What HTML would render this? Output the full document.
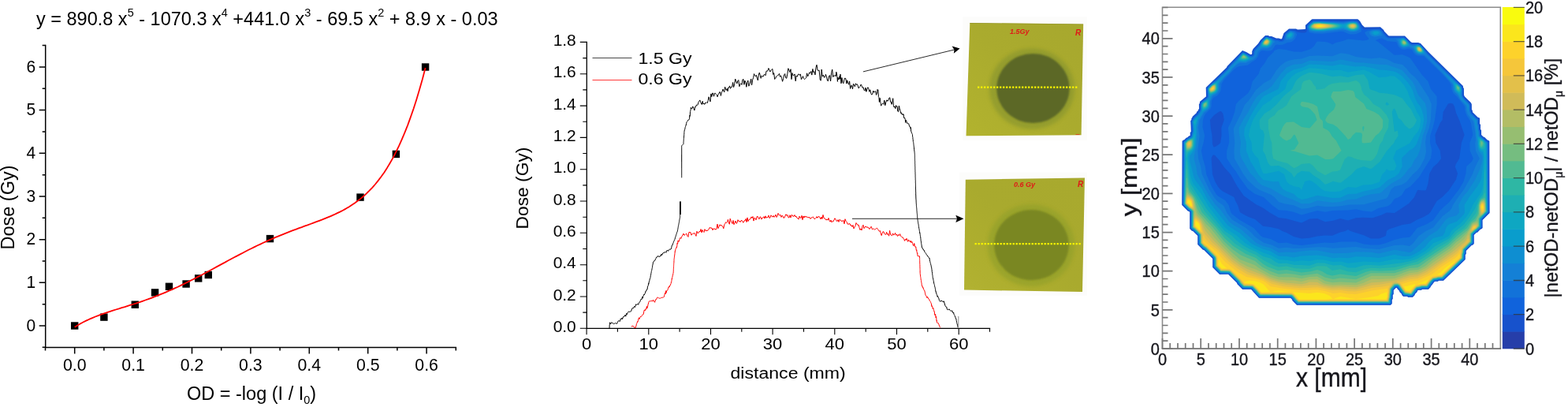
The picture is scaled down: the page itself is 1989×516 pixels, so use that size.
<!DOCTYPE html>
<html lang="en"><head><meta charset="utf-8"><title>Film dosimetry figure</title>
<style>
html,body{margin:0;padding:0;background:#fff;}
body{width:1989px;height:516px;overflow:hidden;}
svg{display:block;}
text{white-space:pre;}
</style></head>
<body>
<svg width="1989" height="516" viewBox="0 0 1989 516">
<rect width="1989" height="516" fill="#fff"/>
<g stroke="#000" stroke-width="1.5" fill="none" stroke-linecap="square">
<path d="M57.7 57.6V440.5H578.3"/>
<path d="M57.7 440.3h-4M57.7 413.0h-8M57.7 385.7h-4M57.7 358.3h-8M57.7 331.0h-4M57.7 303.7h-8M57.7 276.3h-4M57.7 249.0h-8M57.7 221.7h-4M57.7 194.3h-8M57.7 167.0h-4M57.7 139.6h-8M57.7 112.3h-4M57.7 85.0h-8M57.7 57.6h-4M57.5 440.5v4M94.7 440.5v8M131.9 440.5v4M169.1 440.5v8M206.3 440.5v4M243.5 440.5v8M280.7 440.5v4M317.9 440.5v8M355.1 440.5v4M392.3 440.5v8M429.5 440.5v4M466.7 440.5v8M503.9 440.5v4M541.1 440.5v8M578.3 440.5v4" stroke-linecap="butt"/>
</g>
<g font-family='"Liberation Sans", Arial, Helvetica, sans-serif' font-size="23.5" fill="#000">
<text transform="translate(45.1,419.7) scale(0.93,1)" text-anchor="end" font-size="22.6">0</text>
<text transform="translate(45.1,365.0) scale(0.93,1)" text-anchor="end" font-size="22.6">1</text>
<text transform="translate(45.1,310.4) scale(0.93,1)" text-anchor="end" font-size="22.6">2</text>
<text transform="translate(45.1,255.7) scale(0.93,1)" text-anchor="end" font-size="22.6">3</text>
<text transform="translate(45.1,201.0) scale(0.93,1)" text-anchor="end" font-size="22.6">4</text>
<text transform="translate(45.1,146.3) scale(0.93,1)" text-anchor="end" font-size="22.6">5</text>
<text transform="translate(45.1,91.7) scale(0.93,1)" text-anchor="end" font-size="22.6">6</text>
<text x="94.7" y="470" text-anchor="middle" font-size="21.3">0.0</text>
<text x="169.1" y="470" text-anchor="middle" font-size="21.3">0.1</text>
<text x="243.5" y="470" text-anchor="middle" font-size="21.3">0.2</text>
<text x="317.9" y="470" text-anchor="middle" font-size="21.3">0.3</text>
<text x="392.3" y="470" text-anchor="middle" font-size="21.3">0.4</text>
<text x="466.7" y="470" text-anchor="middle" font-size="21.3">0.5</text>
<text x="541.1" y="470" text-anchor="middle" font-size="21.3">0.6</text>
<text x="46" y="31.5">y = 890.8 x<tspan dy="-10.5" font-size="14.5">5</tspan><tspan dy="10.5"> - 1070.3 x</tspan><tspan dy="-10.5" font-size="14.5">4</tspan><tspan dy="10.5"> +441.0 x</tspan><tspan dy="-10.5" font-size="14.5">3</tspan><tspan dy="10.5"> - 69.5 x</tspan><tspan dy="-10.5" font-size="14.5">2</tspan><tspan dy="10.5"> + 8.9 x - 0.03</tspan></text>
<text x="237" y="506.5">OD = -log (I / I<tspan dy="5" font-size="14.5">0</tspan><tspan dy="-5">)</tspan></text>
<text transform="translate(17.5,263) rotate(-90)" text-anchor="middle">Dose (Gy)</text>
</g>
<rect x="90.0" y="408.3" width="9.4" height="9.4" fill="#000"/>
<rect x="127.2" y="397.4" width="9.4" height="9.4" fill="#000"/>
<rect x="166.6" y="381.5" width="9.4" height="9.4" fill="#000"/>
<rect x="191.9" y="366.2" width="9.4" height="9.4" fill="#000"/>
<rect x="209.8" y="358.6" width="9.4" height="9.4" fill="#000"/>
<rect x="231.4" y="355.3" width="9.4" height="9.4" fill="#000"/>
<rect x="247.0" y="348.2" width="9.4" height="9.4" fill="#000"/>
<rect x="259.6" y="343.8" width="9.4" height="9.4" fill="#000"/>
<rect x="337.8" y="297.9" width="9.4" height="9.4" fill="#000"/>
<rect x="452.3" y="245.4" width="9.4" height="9.4" fill="#000"/>
<rect x="497.7" y="190.7" width="9.4" height="9.4" fill="#000"/>
<rect x="534.9" y="80.3" width="9.4" height="9.4" fill="#000"/>
<path d="M94.7 414.8 L98.4 412.5 L102.2 410.3 L105.9 408.3 L109.7 406.4 L113.4 404.7 L117.1 403.1 L120.9 401.5 L124.6 400.1 L128.3 398.7 L132.1 397.4 L135.8 396.1 L139.6 394.9 L143.3 393.7 L147.0 392.5 L150.8 391.4 L154.5 390.2 L158.3 389.1 L162.0 387.9 L165.7 386.7 L169.5 385.5 L173.2 384.3 L177.0 383.1 L180.7 381.8 L184.4 380.5 L188.2 379.2 L191.9 377.8 L195.6 376.4 L199.4 374.9 L203.1 373.4 L206.9 371.9 L210.6 370.3 L214.3 368.7 L218.1 367.1 L221.8 365.4 L225.6 363.7 L229.3 361.9 L233.0 360.1 L236.8 358.2 L240.5 356.4 L244.3 354.5 L248.0 352.6 L251.7 350.6 L255.5 348.7 L259.2 346.7 L262.9 344.7 L266.7 342.7 L270.4 340.7 L274.2 338.6 L277.9 336.6 L281.6 334.6 L285.4 332.6 L289.1 330.5 L292.9 328.5 L296.6 326.5 L300.3 324.6 L304.1 322.6 L307.8 320.7 L311.5 318.7 L315.3 316.8 L319.0 315.0 L322.8 313.1 L326.5 311.3 L330.2 309.6 L334.0 307.8 L337.7 306.1 L341.5 304.4 L345.2 302.8 L348.9 301.2 L352.7 299.6 L356.4 298.1 L360.2 296.6 L363.9 295.1 L367.6 293.7 L371.4 292.2 L375.1 290.8 L378.8 289.4 L382.6 288.1 L386.3 286.7 L390.1 285.4 L393.8 284.0 L397.5 282.6 L401.3 281.2 L405.0 279.8 L408.8 278.4 L412.5 276.9 L416.2 275.4 L420.0 273.8 L423.7 272.2 L427.4 270.4 L431.2 268.6 L434.9 266.7 L438.7 264.6 L442.4 262.4 L446.1 260.0 L449.9 257.5 L453.6 254.8 L457.4 251.9 L461.1 248.8 L464.8 245.4 L468.6 241.7 L472.3 237.8 L476.1 233.5 L479.8 228.9 L483.5 224.0 L487.3 218.7 L491.0 212.9 L494.7 206.7 L498.5 200.1 L502.2 192.9 L506.0 185.2 L509.7 176.9 L513.4 168.1 L517.2 158.6 L520.9 148.4 L524.7 137.5 L528.4 125.9 L532.1 113.4 L535.9 100.2 L539.6 86.1" stroke="#f00" stroke-width="1.8" fill="none" stroke-linejoin="round"/>
<g stroke="#000" stroke-width="1.3" fill="none" stroke-linecap="square">
<path d="M744.3 53.4V416.3H1255.5"/>
<path d="M744.3 416.3h-8.5M744.3 396.1h-5M744.3 376.0h-8.5M744.3 355.8h-5M744.3 335.7h-8.5M744.3 315.5h-5M744.3 295.3h-8.5M744.3 275.2h-5M744.3 255.0h-8.5M744.3 234.9h-5M744.3 214.7h-8.5M744.3 194.5h-5M744.3 174.4h-8.5M744.3 154.2h-5M744.3 134.1h-8.5M744.3 113.9h-5M744.3 93.7h-8.5M744.3 73.6h-5M744.3 53.4h-8.5M744.1 416.3v8M783.4 416.3v4.5M822.8 416.3v8M862.1 416.3v4.5M901.5 416.3v8M940.8 416.3v4.5M980.1 416.3v8M1019.5 416.3v4.5M1058.8 416.3v8M1098.2 416.3v4.5M1137.5 416.3v8M1176.8 416.3v4.5M1216.2 416.3v8M1255.5 416.3v4.5" stroke-linecap="butt" stroke-width="1.1"/>
</g>
<g font-family='"Liberation Sans", Arial, Helvetica, sans-serif' font-size="19.8" fill="#000">
<text transform="translate(730.8,421.0) scale(1.06,1)" text-anchor="end">0.0</text>
<text transform="translate(730.8,380.7) scale(1.06,1)" text-anchor="end">0.2</text>
<text transform="translate(730.8,340.4) scale(1.06,1)" text-anchor="end">0.4</text>
<text transform="translate(730.8,300.0) scale(1.06,1)" text-anchor="end">0.6</text>
<text transform="translate(730.8,259.7) scale(1.06,1)" text-anchor="end">0.8</text>
<text transform="translate(730.8,219.4) scale(1.06,1)" text-anchor="end">1.0</text>
<text transform="translate(730.8,179.1) scale(1.06,1)" text-anchor="end">1.2</text>
<text transform="translate(730.8,138.8) scale(1.06,1)" text-anchor="end">1.4</text>
<text transform="translate(730.8,98.4) scale(1.06,1)" text-anchor="end">1.6</text>
<text transform="translate(730.8,58.1) scale(1.06,1)" text-anchor="end">1.8</text>
<text transform="translate(744.1,443.1) scale(1.1,1)" text-anchor="middle" font-size="20">0</text>
<text transform="translate(822.8,443.1) scale(1.1,1)" text-anchor="middle" font-size="20">10</text>
<text transform="translate(901.5,443.1) scale(1.1,1)" text-anchor="middle" font-size="20">20</text>
<text transform="translate(980.1,443.1) scale(1.1,1)" text-anchor="middle" font-size="20">30</text>
<text transform="translate(1058.8,443.1) scale(1.1,1)" text-anchor="middle" font-size="20">40</text>
<text transform="translate(1137.5,443.1) scale(1.1,1)" text-anchor="middle" font-size="20">50</text>
<text transform="translate(1216.2,443.1) scale(1.1,1)" text-anchor="middle" font-size="20">60</text>
<text transform="translate(999.6,479.7) scale(1.1,1)" text-anchor="middle" font-size="21">distance (mm)</text>
<text transform="translate(669.5,238.5) rotate(-90) scale(1.07,1)" text-anchor="middle" font-size="21.3">Dose (Gy)</text>
<text transform="translate(809.5,80.7) scale(1.17,1)">1.5 Gy</text>
<text transform="translate(809.5,107.3) scale(1.17,1)">0.6 Gy</text>
</g>
<path d="M751.5 73.5H801.5" stroke="#333" stroke-width="0.9"/>
<path d="M751.5 101.5H801.5" stroke="#f22" stroke-width="0.9"/>
<path d="M773.0 416.0 L773.1 415.0 L773.1 414.0 L773.2 412.1 L773.3 411.9 L773.4 410.3 L773.4 409.9 L773.5 408.8 L774.5 411.0 L775.5 408.6 L776.5 409.6 L777.5 409.4 L778.6 410.8 L779.6 410.1 L780.6 409.7 L781.6 410.0 L782.6 410.4 L783.4 408.7 L784.2 406.9 L784.9 406.5 L785.7 407.1 L786.5 407.3 L787.3 403.9 L788.1 404.7 L788.9 403.1 L789.6 404.6 L790.4 401.7 L791.2 401.4 L792.1 401.2 L792.9 399.4 L793.8 401.1 L794.6 397.4 L795.5 398.6 L796.3 396.2 L797.2 395.2 L798.0 394.8 L798.9 395.6 L799.7 395.0 L800.6 394.6 L801.4 392.0 L802.3 390.5 L803.1 391.0 L804.0 389.5 L804.7 388.3 L805.4 389.6 L806.1 387.9 L806.8 385.7 L807.5 386.4 L808.2 385.8 L809.0 385.2 L809.7 386.3 L810.4 384.2 L811.1 383.1 L811.8 382.7 L812.5 380.6 L813.0 379.3 L813.4 379.6 L813.9 379.9 L814.4 377.5 L814.9 376.4 L815.3 378.2 L815.8 375.5 L816.3 374.9 L816.8 373.4 L817.2 374.0 L817.7 372.5 L818.2 372.2 L818.6 371.1 L819.1 369.0 L819.6 369.1 L820.1 368.0 L820.5 367.0 L821.0 367.0 L821.3 365.0 L821.5 363.1 L821.8 362.7 L822.1 362.6 L822.3 361.7 L822.6 359.4 L822.9 360.2 L823.1 357.6 L823.4 357.7 L823.7 356.2 L824.0 355.2 L824.2 354.0 L824.5 353.1 L824.8 352.7 L825.0 351.6 L825.3 349.6 L825.5 348.9 L825.7 347.9 L825.9 346.3 L826.1 345.9 L826.2 344.6 L826.4 343.7 L826.6 343.1 L826.8 342.4 L827.0 340.9 L827.2 340.3 L827.4 339.3 L827.6 338.3 L827.7 336.8 L827.9 336.1 L828.1 335.0 L828.3 334.2 L828.5 332.3 L829.1 332.0 L829.7 331.1 L830.3 330.1 L830.9 330.1 L831.4 328.7 L832.0 327.7 L832.6 326.1 L833.2 325.8 L833.8 326.0 L834.6 324.4 L835.5 324.9 L836.3 325.8 L837.2 324.4 L838.0 325.0 L838.9 322.1 L839.8 323.4 L840.6 321.0 L841.4 320.6 L842.3 320.9 L843.2 319.5 L844.0 319.4 L844.9 320.3 L845.7 318.0 L846.6 317.0 L847.5 318.4 L848.3 316.9 L849.2 316.2 L850.0 316.0 L850.9 316.2 L851.4 315.3 L851.8 313.6 L852.3 311.2 L852.8 311.1 L853.2 310.1 L853.7 308.6 L854.2 307.6 L854.6 306.2 L855.1 305.5 L855.4 304.3 L855.8 303.7 L856.1 303.1 L856.4 301.8 L856.8 300.3 L857.1 299.9 L857.4 298.7 L857.7 297.7 L858.1 296.7 L858.4 295.3 L858.7 294.6 L859.1 293.8 L859.4 292.9 L859.6 291.5 L859.8 290.7 L860.0 289.3 L860.2 288.4 L860.3 287.5 L860.5 286.4 L860.7 285.6 L860.9 284.6 L861.1 283.4 L861.3 282.5 L861.5 281.4 L861.7 280.4 L861.8 279.3 L862.0 278.4 L862.2 277.4 L862.4 276.4 L862.6 275.4 L862.6 274.4 L862.6 273.3 L862.7 272.3 L862.7 271.2 L862.7 270.2 L862.7 269.1 L862.7 268.1 L862.8 267.0 L862.8 266.0 L862.8 264.9 L862.8 263.9 L862.9 262.8 L862.9 261.8 L862.9 260.7 L862.9 259.7 L862.9 258.6 L863.0 257.6 L863.0 256.5 L863.0 255.5" stroke="#000" stroke-width="1" fill="none" stroke-linejoin="round"/>
<path d="M863 272V255.5" stroke="#000" stroke-width="1.8" fill="none"/>
<path d="M864.7 225.3 L864.7 224.3 L864.7 223.3 L864.7 222.3 L864.7 221.2 L864.7 220.2 L864.7 219.2 L864.7 218.2 L864.7 217.2 L864.7 216.2 L864.7 215.2 L864.7 214.2 L864.7 213.2 L864.7 212.1 L864.7 211.1 L864.7 210.1 L864.7 209.1 L864.7 208.1 L864.7 207.1 L864.7 206.1 L864.7 205.1 L864.7 204.0 L864.7 203.0 L864.7 202.0 L864.7 201.0 L864.7 200.0 L864.7 199.0 L864.7 198.0 L864.7 197.0 L864.7 195.9 L864.7 194.9 L864.7 193.9 L864.7 192.9 L864.7 191.9 L864.7 190.9 L864.7 189.9 L864.7 188.9 L864.7 187.8 L864.7 186.8 L864.7 185.8 L864.7 184.8 L865.4 184.1 L866.2 183.3 L866.9 182.6 L867.0 181.5 L867.0 180.6 L867.1 179.6 L867.2 178.4 L867.2 177.8 L867.3 176.5 L867.4 175.4 L867.5 174.8 L867.5 174.0 L867.6 172.9 L867.7 171.9 L867.7 170.6 L867.8 170.3 L867.9 168.7 L867.9 167.6 L868.0 166.8 L868.3 164.7 L868.5 164.7 L868.8 163.7 L869.1 161.6 L869.4 161.3 L869.6 160.3 L869.9 159.7 L870.2 157.9 L870.5 158.1 L870.7 156.4 L871.0 154.8 L871.7 154.1 L872.3 153.4 L873.0 151.8 L873.6 152.0 L874.3 151.3 L874.5 150.3 L874.6 150.2 L874.8 147.0 L875.0 146.2 L875.1 147.4 L875.3 146.6 L875.5 141.8 L875.7 141.2 L875.8 141.1 L876.0 139.7 L876.2 138.8 L876.3 136.4 L876.5 137.4 L877.7 137.9 L878.8 134.9 L880.0 137.6 L880.9 140.0 L881.7 135.4 L882.6 135.4 L883.4 133.0 L884.3 133.3 L885.2 132.8 L886.0 129.7 L886.9 128.2 L887.8 126.9 L888.6 129.2 L889.5 131.5 L890.3 132.5 L891.2 128.3 L892.1 132.0 L892.9 131.0 L893.8 132.4 L894.6 130.2 L895.5 130.6 L896.4 129.7 L897.3 130.6 L898.2 127.5 L899.1 122.8 L900.1 126.1 L901.0 128.9 L901.9 118.9 L902.8 122.6 L903.7 118.0 L904.6 118.2 L905.5 122.2 L906.4 118.3 L907.4 118.2 L908.3 119.4 L909.2 120.3 L910.1 122.8 L911.0 119.5 L911.9 118.8 L912.7 116.6 L913.6 116.8 L914.4 121.4 L915.3 117.3 L916.2 115.8 L917.0 113.1 L917.9 115.2 L918.8 116.8 L919.6 110.2 L920.5 112.7 L921.3 114.4 L922.2 112.4 L923.1 115.7 L923.9 110.8 L924.8 111.1 L925.6 108.9 L926.5 112.3 L927.5 110.3 L928.6 110.2 L929.6 104.5 L930.6 110.6 L931.7 106.7 L932.7 100.1 L933.7 102.8 L934.8 106.0 L935.8 102.7 L936.8 101.5 L937.9 109.7 L938.9 106.7 L939.9 105.8 L941.0 107.4 L942.0 101.0 L943.0 100.4 L943.9 107.3 L944.9 102.3 L945.9 104.1 L946.8 110.3 L947.8 104.8 L948.8 102.0 L949.8 109.2 L950.7 107.7 L951.7 104.0 L952.7 100.1 L953.6 107.8 L954.6 101.2 L955.6 98.7 L956.5 93.6 L957.5 95.7 L958.5 96.9 L959.4 95.2 L960.4 99.3 L961.4 101.9 L962.3 95.2 L963.3 92.0 L964.3 95.5 L965.2 99.3 L966.2 95.9 L967.2 97.1 L968.2 97.0 L969.1 94.7 L970.1 94.4 L971.1 95.7 L972.0 90.2 L973.0 90.1 L974.0 89.7 L974.9 86.5 L975.9 88.3 L976.9 91.0 L977.8 89.5 L978.8 88.5 L979.8 87.3 L980.8 94.5 L981.7 92.6 L982.7 100.5 L983.7 99.5 L984.6 97.0 L985.6 96.4 L986.6 95.3 L987.5 95.2 L988.5 93.3 L989.5 97.3 L990.6 95.9 L991.6 99.4 L992.6 103.3 L993.7 99.4 L994.7 95.0 L995.7 93.5 L996.8 98.8 L997.8 99.3 L998.8 93.9 L999.9 86.7 L1000.9 88.9 L1001.9 91.5 L1003.0 87.7 L1004.0 100.6 L1005.0 92.5 L1006.1 95.9 L1007.1 95.5 L1008.1 93.9 L1009.2 102.8 L1010.2 96.0 L1011.2 97.2 L1012.3 94.3 L1013.3 93.9 L1014.3 95.4 L1015.4 93.9 L1016.4 100.7 L1017.4 99.2 L1018.5 96.6 L1019.5 99.4 L1020.5 100.6 L1021.6 99.7 L1022.6 98.7 L1023.6 92.8 L1024.7 96.8 L1025.7 94.5 L1026.7 91.9 L1027.8 92.9 L1028.8 90.4 L1029.8 95.1 L1030.9 87.4 L1031.9 91.8 L1032.9 90.6 L1034.0 94.9 L1035.0 85.4 L1036.0 82.2 L1037.1 89.0 L1038.1 89.6 L1039.1 89.0 L1040.2 100.9 L1041.2 102.2 L1042.2 88.0 L1043.3 97.0 L1044.3 95.0 L1045.3 98.1 L1046.4 97.9 L1047.4 94.3 L1048.4 96.7 L1049.5 102.2 L1050.5 102.7 L1051.5 96.4 L1052.6 95.6 L1053.6 102.9 L1054.6 92.6 L1055.7 88.0 L1056.7 97.6 L1057.7 95.8 L1058.8 96.1 L1059.8 95.7 L1060.3 96.7 L1060.8 91.2 L1061.3 92.8 L1061.9 96.7 L1062.4 103.4 L1062.9 98.1 L1063.4 100.7 L1063.9 99.7 L1064.5 100.5 L1065.0 96.5 L1065.5 100.1 L1066.0 94.1 L1067.0 105.9 L1067.9 98.5 L1068.9 104.5 L1069.9 105.8 L1070.8 101.2 L1071.8 99.0 L1072.8 99.5 L1073.8 106.1 L1074.7 101.8 L1075.7 105.4 L1076.7 107.2 L1077.6 102.9 L1078.6 112.4 L1079.6 108.6 L1080.5 108.4 L1081.5 112.9 L1082.5 106.3 L1083.4 107.7 L1084.4 109.8 L1085.4 105.8 L1086.3 107.4 L1087.3 106.7 L1088.3 108.8 L1089.2 112.0 L1090.2 110.5 L1091.2 109.3 L1092.2 107.0 L1093.1 108.8 L1094.1 111.4 L1095.1 110.7 L1096.0 114.2 L1097.0 115.2 L1098.0 111.1 L1098.9 116.3 L1099.9 112.8 L1100.9 110.7 L1101.8 112.4 L1102.8 116.3 L1103.8 113.8 L1104.8 118.5 L1105.7 120.2 L1106.7 119.2 L1107.7 115.0 L1108.6 117.1 L1109.6 116.2 L1110.6 115.7 L1111.5 120.4 L1112.5 118.2 L1113.0 113.4 L1113.5 114.5 L1113.9 113.9 L1114.4 122.6 L1114.9 123.4 L1115.4 129.4 L1115.8 124.9 L1116.3 124.3 L1116.8 129.5 L1117.3 131.5 L1117.7 134.2 L1118.2 132.5 L1118.7 132.1 L1119.7 131.1 L1120.8 132.3 L1121.8 127.1 L1122.8 133.7 L1123.9 129.2 L1124.9 126.8 L1125.9 128.3 L1127.0 126.7 L1128.0 124.1 L1128.8 123.8 L1129.5 129.2 L1130.3 129.2 L1131.1 132.3 L1131.9 129.1 L1132.7 124.7 L1133.4 133.6 L1134.2 136.1 L1135.0 134.8 L1135.8 137.7 L1136.5 133.6 L1137.3 135.1 L1138.1 134.7 L1138.8 141.1 L1139.6 141.7 L1140.4 134.0 L1141.2 137.7 L1142.0 140.4 L1142.7 143.7 L1143.5 142.9 L1144.0 145.2 L1144.5 145.2 L1145.0 144.3 L1145.6 145.7 L1146.1 144.8 L1146.6 149.1 L1147.1 150.0 L1147.6 149.3 L1148.2 151.2 L1148.7 155.5 L1149.2 152.2 L1149.7 153.8 L1150.2 154.2 L1150.7 156.4 L1151.2 156.9 L1151.8 156.6 L1152.3 156.7 L1152.8 156.8 L1153.2 158.8 L1153.5 159.9 L1153.9 159.6 L1154.2 161.1 L1154.6 161.6 L1154.9 162.7 L1155.3 161.5 L1155.6 166.1 L1156.0 167.0 L1156.3 168.2 L1156.7 169.2 L1157.0 169.5 L1157.4 170.5 L1157.5 171.2 L1157.6 173.3 L1157.7 173.4 L1157.9 174.5 L1158.0 176.4 L1158.1 176.5 L1158.2 176.9 L1158.3 179.0 L1158.4 179.6 L1158.6 179.9 L1158.7 180.5 L1158.8 181.6 L1158.9 182.3 L1159.0 183.5 L1159.1 184.3 L1159.3 185.9 L1159.4 186.7 L1159.5 188.0 L1159.6 189.0 L1159.7 189.9 L1159.8 191.1 L1160.0 192.2 L1160.1 193.4 L1160.2 194.3 L1160.3 195.4 L1160.3 196.4 L1160.4 197.4 L1160.4 198.4 L1160.4 199.4 L1160.4 200.5 L1160.5 201.5 L1160.5 202.5 L1160.5 203.5 L1160.6 204.5 L1160.6 205.5 L1160.6 206.5 L1160.6 207.5 L1160.7 208.5 L1160.7 209.5 L1160.7 210.6 L1160.8 211.6 L1160.8 212.6 L1160.8 213.6 L1160.8 214.6 L1160.9 215.6 L1160.9 216.6 L1160.9 217.6 L1161.0 218.6 L1161.0 219.7 L1161.0 220.7 L1161.1 221.7 L1161.1 222.7 L1161.1 223.7 L1161.1 224.7 L1161.2 225.7 L1161.2 226.7 L1161.2 227.7 L1161.3 228.7 L1161.3 229.8 L1161.3 230.8 L1161.3 231.8 L1161.4 232.8 L1161.4 233.8 L1161.4 234.8 L1161.5 235.8 L1161.5 236.8 L1161.5 237.9 L1161.5 238.9 L1161.5 239.9 L1161.6 240.9 L1161.6 241.9 L1161.6 242.9 L1161.7 243.9 L1161.7 244.9 L1161.7 245.9 L1161.7 247.0 L1161.8 248.0 L1161.8 249.0 L1161.8 250.0 L1161.9 251.0 L1161.9 252.1 L1162.0 253.1 L1162.1 254.1 L1162.1 255.1 L1162.2 256.2 L1162.2 257.2 L1162.3 258.2 L1162.4 259.2 L1162.4 260.3 L1162.5 261.3 L1162.6 262.3 L1162.7 263.3 L1162.8 264.3 L1162.9 265.5 L1162.9 266.4 L1163.0 267.3 L1163.1 268.3 L1163.2 269.6 L1163.3 270.5 L1163.4 271.5 L1163.5 272.7 L1163.6 273.6 L1163.6 274.3 L1163.7 275.8 L1163.8 276.7 L1163.9 277.1 L1164.0 278.3 L1164.2 279.3 L1164.3 280.3 L1164.5 281.6 L1164.7 282.8 L1164.8 283.6 L1165.0 284.2 L1165.2 285.4 L1165.3 286.8 L1165.5 287.7 L1165.7 289.2 L1165.9 290.1 L1166.0 290.5 L1166.2 292.2 L1166.4 292.7 L1166.5 293.3 L1166.7 295.6 L1166.9 295.2 L1167.0 296.4 L1167.2 297.3 L1167.3 298.3 L1167.5 299.6 L1167.6 300.7 L1167.8 300.6 L1167.9 302.7 L1168.0 303.4 L1168.2 305.5 L1168.3 305.6 L1168.5 307.2 L1168.6 308.3 L1168.7 308.9 L1168.9 309.8 L1169.0 310.3 L1169.2 312.0 L1169.3 313.0 L1169.8 314.1 L1170.4 315.1 L1170.9 316.3 L1171.4 316.2 L1171.9 317.6 L1172.5 317.6 L1173.0 319.6 L1173.5 320.1 L1174.1 320.7 L1174.6 321.5 L1175.3 322.8 L1176.0 323.7 L1176.8 325.1 L1177.5 325.3 L1178.2 326.6 L1178.9 327.8 L1179.1 327.5 L1179.3 329.9 L1179.5 331.2 L1179.8 331.5 L1180.0 332.8 L1180.2 333.3 L1180.4 333.9 L1180.6 334.6 L1180.8 335.9 L1181.0 336.1 L1181.2 337.4 L1181.5 339.1 L1181.7 339.2 L1181.9 341.3 L1182.1 342.1 L1182.2 344.0 L1182.3 344.6 L1182.5 345.0 L1182.6 346.3 L1182.7 347.1 L1182.8 348.6 L1183.0 349.4 L1183.1 350.5 L1183.2 351.7 L1183.4 352.7 L1183.6 352.6 L1183.9 354.8 L1184.1 355.6 L1184.3 356.7 L1184.5 358.0 L1184.7 359.1 L1185.0 360.3 L1185.2 360.6 L1185.4 361.4 L1185.6 362.8 L1185.9 363.9 L1186.1 364.4 L1186.3 365.9 L1186.5 366.5 L1186.7 367.9 L1187.0 369.7 L1187.2 369.4 L1187.4 370.9 L1187.8 372.1 L1188.3 373.4 L1188.7 374.1 L1189.1 376.3 L1189.6 375.4 L1190.0 377.1 L1190.4 377.3 L1190.8 378.1 L1191.3 380.2 L1191.7 381.4 L1192.8 382.3 L1193.8 381.0 L1194.9 381.7 L1195.9 382.3 L1197.0 382.2 L1197.4 381.8 L1197.9 384.6 L1198.3 384.7 L1198.7 387.0 L1199.2 387.9 L1199.6 388.6 L1200.0 388.5 L1200.4 389.6 L1200.9 389.3 L1201.3 392.1 L1202.2 392.7 L1203.2 392.4 L1204.1 391.9 L1205.0 393.2 L1205.9 394.3 L1206.8 394.2 L1207.8 393.9 L1208.7 396.1 L1209.1 396.9 L1209.6 396.0 L1210.0 398.3 L1210.4 399.2 L1210.8 399.5 L1211.3 400.7 L1211.7 402.2 L1212.1 402.4 L1212.6 404.0 L1213.0 405.0 L1213.2 406.6 L1213.4 406.9 L1213.6 408.8 L1213.8 409.2 L1214.0 410.5 L1214.3 411.0 L1214.5 412.2 L1214.7 413.2 L1214.9 414.3 L1215.1 415.3" stroke="#000" stroke-width="1" fill="none" stroke-linejoin="round"/>
<path d="M1215.8 415V401" stroke="#888" stroke-width="1" fill="none"/>
<path d="M800.8 413.8 L801.9 413.7 L802.9 413.1 L804.0 414.6 L805.0 415.4 L806.1 415.6 L806.5 413.9 L807.0 413.1 L807.4 410.6 L807.8 410.1 L808.2 409.1 L808.7 407.4 L809.1 407.9 L809.5 406.4 L810.0 404.2 L810.4 402.8 L811.1 404.5 L811.8 402.6 L812.5 401.2 L813.2 401.7 L814.0 400.7 L814.7 399.3 L815.4 398.7 L816.1 398.7 L816.8 395.1 L817.2 393.2 L817.6 393.1 L818.0 394.0 L818.4 392.5 L818.8 393.2 L819.2 392.1 L819.6 390.9 L820.0 391.2 L820.4 388.4 L820.8 391.1 L821.2 389.0 L821.6 388.9 L822.0 386.1 L822.4 385.0 L822.8 383.3 L823.2 382.2 L824.3 381.7 L825.3 381.9 L826.4 381.0 L827.5 382.2 L828.5 380.1 L829.6 382.1 L830.6 383.3 L831.6 379.8 L832.5 379.8 L833.5 377.3 L834.5 377.1 L835.5 377.8 L836.4 378.1 L837.4 378.3 L838.4 377.6 L839.4 377.3 L840.3 377.2 L841.3 377.3 L842.3 376.2 L842.8 374.2 L843.2 373.1 L843.7 371.3 L844.1 372.6 L844.6 368.7 L845.0 371.5 L845.5 368.8 L846.0 368.9 L846.5 368.2 L847.0 367.3 L847.5 365.7 L848.0 364.1 L848.4 364.4 L848.9 362.8 L849.4 363.5 L849.9 361.6 L850.4 361.5 L850.9 359.8 L851.1 359.2 L851.3 359.0 L851.5 357.2 L851.8 356.9 L852.0 355.4 L852.2 353.7 L852.4 354.0 L852.6 352.2 L852.8 351.4 L853.0 351.1 L853.2 349.5 L853.5 349.0 L853.7 347.7 L853.9 346.5 L854.1 346.0 L854.2 344.6 L854.2 344.0 L854.3 342.7 L854.3 341.2 L854.4 340.3 L854.5 339.8 L854.5 338.7 L854.6 337.4 L854.6 336.4 L854.7 335.4 L854.7 334.6 L854.8 333.7 L854.9 332.9 L854.9 332.0 L855.0 330.5 L855.0 329.7 L855.1 328.3 L855.2 327.8 L855.4 326.2 L855.5 325.2 L855.7 323.4 L855.8 323.5 L855.9 321.7 L856.1 321.1 L856.2 318.7 L856.4 319.1 L856.5 318.8 L856.8 316.9 L857.1 315.5 L857.4 315.0 L857.7 314.3 L858.0 313.7 L858.2 314.2 L858.5 313.0 L858.8 311.8 L859.1 308.1 L859.4 309.2 L859.7 309.0 L860.0 304.9 L860.8 306.5 L861.5 305.9 L862.2 302.3 L863.0 301.3 L863.8 302.5 L864.5 300.1 L865.2 299.7 L866.0 298.0 L867.0 296.1 L868.0 298.3 L869.0 297.7 L870.0 296.5 L871.0 296.4 L872.0 299.4 L873.0 300.4 L874.0 294.2 L875.0 294.7 L876.0 294.5 L877.0 298.2 L878.0 296.8 L879.0 295.8 L880.0 296.4 L881.0 295.3 L882.0 297.4 L883.0 299.4 L884.0 293.2 L885.0 295.7 L886.0 295.3 L887.0 293.3 L888.0 293.9 L889.0 290.5 L890.0 294.9 L891.0 291.5 L892.0 293.5 L893.0 294.5 L894.0 290.6 L895.0 292.6 L896.0 292.2 L897.0 292.6 L898.0 291.9 L899.0 290.9 L900.0 288.6 L901.0 288.7 L902.0 289.3 L903.0 288.9 L904.0 291.8 L905.0 289.8 L906.0 290.1 L907.0 290.3 L908.0 291.2 L909.0 289.7 L910.0 284.1 L911.0 289.6 L912.0 287.5 L913.0 284.8 L914.0 286.0 L915.0 285.2 L915.9 286.7 L916.9 287.1 L917.8 289.8 L918.8 284.9 L919.7 283.6 L920.6 281.7 L921.6 282.5 L922.5 281.5 L923.4 278.4 L924.4 282.0 L925.3 284.3 L926.2 277.2 L927.2 280.1 L928.1 282.3 L929.1 283.6 L930.0 279.4 L931.0 284.7 L932.0 282.5 L933.0 280.1 L934.0 283.4 L935.0 282.6 L936.0 278.7 L937.0 280.5 L938.0 280.1 L939.0 281.6 L940.0 279.7 L941.0 279.3 L942.0 281.4 L943.0 282.3 L944.0 279.7 L945.0 279.9 L946.0 277.5 L947.0 281.6 L948.0 275.9 L949.0 280.6 L950.0 278.4 L951.0 278.1 L952.0 277.5 L953.0 274.9 L954.0 276.4 L955.0 274.5 L956.0 280.1 L957.0 276.2 L958.0 276.9 L959.0 278.8 L960.0 274.7 L961.0 274.2 L962.0 276.5 L963.0 277.9 L964.0 274.9 L965.0 275.2 L966.0 278.1 L967.0 276.3 L968.0 275.9 L969.0 274.6 L970.0 277.1 L971.0 273.8 L972.0 276.3 L973.0 275.5 L974.0 275.6 L975.0 273.0 L976.0 276.6 L977.0 275.9 L978.0 272.8 L979.0 274.4 L980.0 275.1 L981.0 273.4 L982.0 275.4 L983.0 274.1 L984.0 272.1 L985.0 275.5 L986.0 274.2 L987.0 270.4 L988.0 272.4 L989.0 273.2 L990.0 272.2 L991.0 275.4 L992.0 273.3 L993.0 273.8 L994.0 276.4 L995.0 276.0 L996.0 273.7 L997.0 271.7 L998.0 273.4 L999.0 272.4 L1000.0 275.8 L1001.0 275.9 L1002.0 272.7 L1003.0 276.0 L1004.0 272.6 L1005.0 272.7 L1006.0 274.5 L1007.0 274.0 L1008.0 272.5 L1009.0 275.0 L1010.0 274.2 L1011.0 276.3 L1012.0 276.8 L1013.0 278.1 L1014.0 274.2 L1015.0 276.0 L1016.0 276.4 L1017.0 273.3 L1018.0 278.7 L1019.0 274.0 L1020.0 276.2 L1021.0 273.9 L1022.0 275.3 L1023.0 274.5 L1024.0 275.2 L1025.0 276.1 L1026.0 275.5 L1027.0 275.6 L1028.0 277.5 L1029.0 276.2 L1030.0 275.8 L1031.0 274.8 L1032.0 275.7 L1033.0 277.6 L1034.0 277.5 L1035.0 276.3 L1036.0 274.6 L1037.0 276.3 L1038.0 274.6 L1039.0 274.4 L1040.0 276.1 L1041.0 277.9 L1042.0 275.1 L1043.0 277.5 L1044.0 272.4 L1045.0 276.3 L1046.0 277.0 L1047.0 277.5 L1048.0 279.1 L1049.0 278.0 L1050.0 279.1 L1051.0 276.4 L1052.0 279.5 L1053.0 281.1 L1054.0 279.1 L1055.0 281.8 L1056.0 280.5 L1057.0 280.8 L1058.0 278.9 L1059.0 276.7 L1060.0 278.1 L1061.0 279.9 L1062.0 280.6 L1063.0 278.6 L1064.0 281.4 L1065.0 278.3 L1066.0 278.9 L1067.0 280.3 L1068.0 280.2 L1069.0 280.2 L1070.0 279.4 L1071.0 283.8 L1072.0 277.7 L1073.0 280.2 L1074.0 281.3 L1075.0 283.9 L1076.0 284.3 L1077.0 283.9 L1078.0 283.5 L1079.0 286.1 L1080.0 285.5 L1081.0 287.5 L1082.0 285.4 L1083.0 289.9 L1084.0 288.0 L1085.0 286.3 L1086.0 282.5 L1087.0 284.0 L1088.0 285.5 L1089.0 284.9 L1090.0 288.5 L1091.0 291.5 L1092.0 289.9 L1093.0 292.0 L1094.0 286.7 L1095.0 285.2 L1096.0 289.7 L1097.0 288.1 L1098.0 286.9 L1099.0 288.1 L1100.0 288.0 L1101.1 288.0 L1102.1 289.8 L1103.2 290.4 L1104.3 287.9 L1105.3 287.3 L1106.4 290.8 L1107.5 290.2 L1108.6 290.2 L1109.6 291.1 L1110.7 290.3 L1111.6 289.7 L1112.6 289.2 L1113.5 290.6 L1114.4 291.9 L1115.4 293.3 L1116.3 292.4 L1117.2 295.6 L1118.2 298.6 L1119.1 295.8 L1120.0 293.7 L1120.9 293.8 L1121.9 296.3 L1122.8 297.3 L1123.7 297.3 L1124.7 294.3 L1125.6 297.3 L1126.6 296.6 L1127.6 299.2 L1128.6 292.3 L1129.6 297.6 L1130.6 298.2 L1131.6 298.8 L1132.6 295.9 L1133.6 297.9 L1134.6 297.5 L1135.6 295.3 L1136.6 298.2 L1137.6 297.1 L1138.6 299.5 L1139.6 297.4 L1140.6 298.6 L1141.6 296.6 L1142.6 299.3 L1143.4 300.1 L1144.2 300.7 L1145.1 300.8 L1145.9 302.2 L1146.7 303.2 L1147.5 305.4 L1148.4 303.3 L1149.2 304.4 L1150.0 302.3 L1150.8 304.1 L1151.7 306.4 L1152.5 303.9 L1153.3 305.4 L1154.0 305.6 L1154.7 307.1 L1155.4 305.0 L1156.1 307.7 L1156.8 306.4 L1157.5 308.5 L1158.3 310.8 L1159.0 311.8 L1159.7 308.5 L1160.4 311.6 L1161.1 313.4 L1161.8 312.8 L1162.0 315.1 L1162.3 317.2 L1162.5 317.6 L1162.8 316.8 L1163.0 319.4 L1163.3 319.9 L1163.5 321.3 L1163.8 320.9 L1164.0 324.5 L1165.2 324.8 L1166.5 324.8 L1166.5 326.1 L1166.6 327.4 L1166.6 328.7 L1166.6 329.5 L1166.7 330.4 L1166.7 331.9 L1166.7 332.7 L1166.8 334.5 L1166.8 334.7 L1166.8 335.7 L1166.9 336.2 L1166.9 337.1 L1166.9 338.5 L1167.0 340.1 L1167.0 340.6 L1167.0 341.5 L1167.1 342.5 L1167.1 344.0 L1167.1 345.0 L1167.2 346.3 L1167.2 346.5 L1167.3 347.9 L1167.5 348.9 L1167.7 350.8 L1167.8 351.4 L1168.0 352.6 L1168.1 353.8 L1168.3 355.0 L1168.5 355.6 L1168.6 356.7 L1168.8 358.1 L1169.0 358.7 L1169.1 359.8 L1169.3 361.5 L1169.7 363.0 L1170.1 362.7 L1170.4 363.8 L1170.8 365.2 L1171.2 364.9 L1171.6 366.5 L1171.9 367.4 L1172.3 368.0 L1172.7 368.1 L1173.1 369.9 L1173.5 371.5 L1173.8 373.3 L1174.2 374.1 L1174.6 375.1 L1175.3 375.8 L1175.9 377.5 L1176.6 376.3 L1177.3 378.0 L1178.0 379.1 L1178.7 379.5 L1179.3 381.4 L1180.0 382.0 L1180.4 382.5 L1180.7 383.5 L1181.1 384.5 L1181.4 385.0 L1181.8 388.4 L1182.1 387.8 L1182.5 387.9 L1182.8 389.5 L1183.2 391.4 L1183.5 390.5 L1183.9 390.4 L1184.2 392.3 L1184.6 393.4 L1184.9 395.0 L1185.3 395.0 L1185.5 398.4 L1185.8 399.4 L1186.0 399.1 L1186.3 398.2 L1186.5 400.0 L1186.8 399.5 L1187.0 402.6 L1187.3 402.9 L1187.5 401.1 L1187.8 403.7 L1188.0 406.6 L1188.3 406.1 L1188.5 408.8 L1189.1 409.6 L1189.7 409.0 L1190.3 410.1 L1190.9 411.1 L1191.5 413.1 L1192.1 414.2 L1192.7 415.3" stroke="#f00" stroke-width="1" fill="none" stroke-linejoin="round"/>
<defs>
<filter id="bl3" x="-20%" y="-20%" width="140%" height="140%"><feGaussianBlur stdDeviation="2.2"/></filter>
<filter id="bl1" x="-20%" y="-20%" width="140%" height="140%"><feGaussianBlur stdDeviation="1.1"/></filter>
<filter id="bl05" x="-5%" y="-5%" width="110%" height="110%"><feGaussianBlur stdDeviation="0.5"/></filter>
<filter id="bl15" x="-5%" y="-5%" width="110%" height="110%"><feGaussianBlur stdDeviation="1.5"/></filter>
<linearGradient id="film1" x1="0" y1="1" x2="1" y2="0"><stop offset="0" stop-color="#b2b32f"/><stop offset="0.5" stop-color="#aaab2e"/><stop offset="1" stop-color="#a7a82d"/></linearGradient>
<linearGradient id="film2" x1="0" y1="1" x2="1" y2="0"><stop offset="0" stop-color="#b2b230"/><stop offset="0.5" stop-color="#a9aa2e"/><stop offset="1" stop-color="#a8a92f"/></linearGradient>
<clipPath id="cp1"><path d="M1230.3 29L1374.2 30.4L1371.6 171.2L1225.5 172.3Z"/></clipPath>
<clipPath id="cp2"><path d="M1224.8 227.7L1376 225.5L1373 370L1223 367.6Z"/></clipPath>
</defs>
<rect x="1221.5" y="21.5" width="157.5" height="156.5" fill="#fcfcfb"/>
<g filter="url(#bl05)"><path d="M1230.3 29L1374.2 30.4L1371.6 171.2L1225.5 172.3Z" fill="url(#film1)"/></g>
<g clip-path="url(#cp1)">
<path d="M1230 29.3L1374.2 30.7" stroke="#8e8f2a" stroke-width="1" opacity="0.7"/>
<ellipse cx="1309" cy="112.6" rx="54" ry="51" fill="#8a962f" opacity="0.7" filter="url(#bl3)"/>
<ellipse cx="1310.4" cy="112" rx="46.2" ry="44" fill="#5b6827" filter="url(#bl1)"/>
</g>
<path d="M1240 110.6H1367" stroke="#f6f200" stroke-width="2.2" stroke-dasharray="2.4 1.6"/>
<text x="1281" y="42.5" font-family='"Liberation Sans", Arial, Helvetica, sans-serif' font-style="italic" font-weight="bold" font-size="9" fill="#e01818">1.5Gy</text>
<text x="1364" y="44.5" font-family='"Liberation Sans", Arial, Helvetica, sans-serif' font-style="italic" font-weight="bold" font-size="10" fill="#e01818">R</text>
<path d="M1364.5 170.5h5" stroke="#d8401a" stroke-width="0.9"/>
<rect x="1217.2" y="218.5" width="161.8" height="156" fill="#fcfcfb"/>
<g filter="url(#bl05)"><path d="M1224.8 227.7L1376 225.5L1373 370L1223 367.6Z" fill="url(#film2)"/></g>
<g clip-path="url(#cp2)">
<ellipse cx="1308" cy="311" rx="55" ry="52" fill="#93a02c" opacity="0.7" filter="url(#bl3)"/>
<ellipse cx="1308.4" cy="310.6" rx="47.3" ry="44.6" fill="#7a8724" filter="url(#bl1)"/>
</g>
<path d="M1236.5 309.2H1371" stroke="#f6f200" stroke-width="2.2" stroke-dasharray="2.4 1.6"/>
<text x="1286" y="237" font-family='"Liberation Sans", Arial, Helvetica, sans-serif' font-style="italic" font-weight="bold" font-size="9" fill="#e01818">0.6 Gy</text>
<text x="1367" y="237" font-family='"Liberation Sans", Arial, Helvetica, sans-serif' font-style="italic" font-weight="bold" font-size="10" fill="#e01818">R</text>
<path d="M1094.9 90.9L1211 62.9" stroke="#111" stroke-width="0.9" fill="none"/>
<path d="M1217.6 61.4L1207.6 58.6L1210.5 63.2L1209.8 67.8Z" fill="#000"/>
<path d="M1081 277.3H1215" stroke="#111" stroke-width="0.9" fill="none"/>
<path d="M1222.5 277.3L1212.3 272.7L1214 277.3L1212.3 281.9Z" fill="#000"/>
<g fill-rule="evenodd" stroke="none" shape-rendering="geometricPrecision">
<path d="M1764.0 386.7L1645.0 386.7L1639.3 381.0L1639.3 380.0L1637.0 377.7L1597.0 377.7L1587.0 366.7L1576.0 366.7L1569.3 360.0L1569.3 359.0L1558.0 347.7L1547.0 347.7L1538.3 339.0L1538.3 328.0L1527.0 316.7L1526.0 316.7L1519.3 310.0L1519.3 299.0L1513.0 292.7L1512.0 292.7L1509.3 290.0L1509.3 269.0L1508.0 267.7L1507.0 267.7L1499.3 260.0L1499.6 179.0L1501.0 177.6L1502.0 177.6L1505.0 174.6L1506.0 174.5L1508.0 172.6L1509.7 172.0L1509.7 168.0L1510.8 167.0L1510.3 153.0L1511.4 152.0L1511.4 150.0L1512.5 149.0L1512.5 148.0L1517.9 143.0L1517.9 142.0L1520.0 140.0L1520.0 139.0L1521.0 138.0L1520.9 132.0L1521.9 131.0L1521.9 129.0L1530.0 122.2L1529.7 111.0L1556.0 85.6L1556.6 84.0L1576.0 64.0L1581.0 65.9L1586.0 69.1L1587.6 69.0L1588.2 68.0L1588.2 65.0L1589.6 62.0L1596.0 55.3L1598.8 51.0L1605.0 44.9L1609.0 45.0L1610.0 46.0L1613.0 46.1L1619.0 48.4L1622.0 48.4L1625.0 49.4L1626.1 49.0L1628.5 42.0L1635.0 36.4L1644.0 36.5L1646.0 37.6L1655.6 37.0L1656.1 36.0L1655.9 32.0L1664.0 24.5L1665.0 24.2L1717.0 24.2L1722.0 24.3L1723.0 24.8L1725.2 27.0L1728.0 31.8L1731.0 34.5L1751.0 34.3L1755.2 38.0L1756.0 39.8L1761.0 45.0L1762.0 45.4L1782.0 45.6L1789.4 53.0L1791.2 54.0L1799.0 54.1L1802.0 55.0L1812.1 66.0L1855.9 109.0L1856.0 111.1L1856.9 112.0L1857.0 120.4L1858.0 122.4L1865.7 130.0L1866.8 132.0L1866.9 139.0L1867.8 140.0L1868.0 142.2L1875.0 148.9L1876.0 148.9L1877.1 150.0L1877.0 157.0L1878.1 158.0L1878.0 164.0L1879.0 165.0L1879.1 171.0L1882.0 173.8L1883.0 173.8L1887.0 177.8L1888.0 177.7L1889.3 179.0L1889.6 270.0L1880.6 279.0L1880.6 289.0L1879.0 290.6L1878.0 290.6L1874.0 294.7L1873.0 294.7L1869.7 298.0L1869.7 309.0L1868.0 310.7L1867.0 310.7L1859.7 318.0L1859.7 322.0L1858.7 323.0L1858.7 329.0L1831.0 355.7L1825.0 355.7L1824.0 356.7L1820.0 356.7L1814.7 363.0L1814.7 364.0L1812.0 366.7L1804.0 366.7L1803.0 367.7L1799.0 367.7L1797.7 369.0L1797.7 370.0L1794.7 373.0L1794.7 374.0L1792.0 376.7L1786.0 376.7L1785.0 375.7L1780.0 375.7L1778.3 374.0L1778.3 373.0L1775.3 370.0L1775.3 369.0L1772.3 366.0L1772.3 365.0L1771.0 364.7L1767.7 368.0L1767.7 373.0L1766.7 374.0L1766.7 379.0L1765.7 380.0L1765.7 385.0Z" fill="#1752cc"/>
<path d="M1764.0 386.4L1645.0 386.4L1639.6 381.0L1639.6 380.0L1637.0 377.4L1597.0 377.4L1587.0 366.4L1576.0 366.4L1569.7 360.0L1569.7 359.0L1558.0 347.3L1547.0 347.4L1538.6 339.0L1538.6 328.0L1527.0 316.4L1526.0 316.4L1519.6 310.0L1519.7 299.0L1513.0 292.4L1512.0 292.4L1509.6 290.0L1509.7 269.0L1508.0 267.3L1507.0 267.3L1499.7 260.0L1500.4 179.0L1502.4 178.0L1505.0 175.4L1510.0 172.7L1510.4 169.0L1511.4 167.0L1510.7 153.0L1511.8 152.0L1511.9 150.0L1513.5 148.0L1518.2 144.0L1520.3 141.0L1521.6 138.0L1521.5 133.0L1522.5 130.0L1530.5 123.0L1530.3 112.0L1530.7 111.0L1556.7 86.0L1557.7 84.0L1576.0 65.2L1578.0 65.5L1586.0 69.9L1588.0 69.8L1589.0 68.6L1589.1 65.0L1590.8 62.0L1597.0 55.5L1598.2 53.0L1600.7 50.0L1606.0 45.5L1613.0 47.0L1619.0 49.4L1622.0 49.5L1624.0 50.5L1626.0 50.3L1627.2 49.0L1627.4 47.0L1629.7 42.0L1636.0 37.1L1643.0 37.6L1646.0 38.8L1652.0 38.9L1656.0 38.3L1656.9 37.0L1656.6 33.0L1657.2 32.0L1665.0 25.1L1716.0 25.1L1722.0 25.4L1722.8 26.0L1730.0 35.5L1751.0 35.4L1761.0 46.2L1781.0 46.1L1785.0 49.3L1789.0 53.8L1791.0 55.0L1799.0 54.8L1802.0 56.1L1812.0 66.9L1854.7 109.0L1856.3 113.0L1856.4 121.0L1857.4 123.0L1864.5 130.0L1866.2 133.0L1866.1 139.0L1867.5 143.0L1876.4 151.0L1876.3 157.0L1877.4 159.0L1877.3 164.0L1878.4 166.0L1878.8 172.0L1888.6 180.0L1889.1 270.0L1880.0 279.0L1880.2 289.0L1879.0 290.2L1878.0 290.2L1874.0 294.3L1873.0 294.3L1869.3 298.0L1869.4 309.0L1868.0 310.4L1867.0 310.3L1859.3 318.0L1859.4 322.0L1858.4 323.0L1858.4 329.0L1831.0 355.4L1825.0 355.4L1824.0 356.4L1820.0 356.4L1817.4 359.0L1817.4 360.0L1812.0 366.4L1804.0 366.4L1803.0 367.4L1799.0 367.4L1797.4 369.0L1797.4 370.0L1794.4 373.0L1794.4 374.0L1792.0 376.4L1786.0 376.4L1785.0 375.4L1780.0 375.4L1778.6 374.0L1778.6 373.0L1775.6 370.0L1775.6 369.0L1772.7 366.0L1772.7 365.0L1771.0 364.3L1767.3 368.0L1767.4 373.0L1766.4 374.0L1766.4 379.0L1765.4 380.0L1765.4 385.0Z" fill="#1752cc"/>
<path d="M1764.0 385.5L1646.0 385.8L1645.0 385.5L1637.0 376.8L1597.0 376.5L1587.5 366.0L1576.0 365.4L1570.6 360.0L1570.0 358.4L1558.6 347.0L1547.0 346.5L1539.5 339.0L1539.0 327.5L1527.5 316.0L1526.0 315.5L1520.5 310.0L1520.0 298.4L1513.5 292.0L1512.0 291.5L1510.5 290.0L1510.3 269.0L1508.7 267.0L1506.0 265.4L1500.3 259.0L1500.9 180.0L1505.0 176.4L1510.8 173.0L1511.3 169.0L1512.3 167.0L1511.4 154.0L1513.9 149.0L1519.0 144.5L1521.3 141.0L1522.3 139.0L1522.4 133.0L1523.4 130.0L1531.5 123.0L1531.0 112.0L1531.6 111.0L1557.1 87.0L1558.1 85.0L1576.0 66.2L1578.0 66.3L1586.0 70.8L1589.0 70.3L1590.0 69.0L1590.1 66.0L1591.3 63.0L1597.1 57.0L1600.7 51.0L1606.0 46.3L1612.0 47.7L1618.0 50.4L1621.0 50.7L1623.0 51.6L1626.0 51.7L1628.1 50.0L1630.2 43.0L1636.0 38.2L1642.8 39.0L1646.0 40.7L1651.0 41.5L1655.0 41.5L1657.0 40.7L1658.1 38.0L1657.7 33.0L1661.0 29.4L1666.0 26.1L1703.0 27.0L1716.0 26.1L1722.0 26.8L1725.4 31.0L1728.0 36.1L1730.0 37.6L1750.0 36.5L1753.3 39.0L1756.0 42.9L1761.0 47.5L1781.0 47.1L1785.0 50.4L1788.0 54.0L1791.0 56.0L1799.0 55.7L1803.0 57.7L1811.0 67.4L1853.7 109.0L1855.4 113.0L1855.4 121.0L1857.0 124.0L1864.0 130.9L1865.1 133.0L1865.2 139.0L1866.4 143.0L1873.4 150.0L1875.4 151.0L1875.4 157.0L1876.3 159.0L1876.4 164.0L1877.3 166.0L1877.8 172.0L1886.0 179.0L1887.0 179.3L1887.8 181.0L1888.4 269.0L1879.8 278.0L1879.6 288.0L1869.0 297.3L1868.5 309.0L1866.4 310.0L1859.0 317.4L1858.8 321.0L1857.8 323.0L1857.5 329.0L1831.0 354.5L1825.0 354.8L1823.0 355.8L1819.5 356.0L1817.0 358.5L1816.5 360.0L1812.0 365.5L1804.0 365.8L1802.0 366.8L1798.5 367.0L1794.0 372.5L1793.5 374.0L1791.0 375.8L1787.0 375.8L1785.0 374.8L1780.0 374.5L1779.0 372.5L1776.5 370.0L1776.0 368.4L1773.6 366.0L1773.0 364.3L1772.0 363.7L1770.3 364.0L1766.8 368.0L1766.8 372.0L1765.8 374.0L1765.8 378.0L1764.8 380.0L1764.8 384.0ZM1751.0 302.0L1757.9 299.0L1759.0 292.7L1762.0 290.4L1779.0 284.9L1789.0 283.6L1796.8 279.0L1806.0 275.1L1812.0 271.5L1814.5 269.0L1822.5 255.0L1829.4 250.0L1838.0 241.3L1847.0 227.4L1849.0 220.0L1845.7 211.0L1847.0 207.8L1851.2 201.0L1853.9 181.0L1857.6 171.0L1851.4 153.0L1847.0 142.9L1845.0 135.0L1843.0 131.6L1840.0 130.7L1837.0 131.6L1830.6 142.0L1829.7 152.0L1827.0 155.5L1820.4 171.0L1821.3 181.0L1826.7 191.0L1828.0 201.0L1824.0 206.4L1818.0 211.7L1813.3 220.0L1811.4 233.0L1809.3 240.0L1808.0 241.4L1802.0 241.3L1799.0 240.7L1798.0 241.2L1794.0 250.0L1787.1 258.0L1769.0 270.0L1759.0 269.6L1752.0 272.7L1741.0 276.2L1729.0 275.7L1720.0 276.2L1710.0 279.4L1700.0 277.0L1691.0 279.7L1681.0 281.2L1671.0 277.1L1661.0 277.4L1651.0 282.4L1632.0 277.3L1622.0 276.0L1611.0 269.8L1602.0 263.6L1593.0 259.1L1577.6 248.0L1569.0 235.4L1561.0 221.0L1552.8 212.0L1547.0 203.5L1541.0 196.7L1539.0 196.2L1537.6 198.0L1536.6 201.0L1538.0 221.0L1541.2 230.0L1545.0 236.7L1548.0 240.2L1551.0 242.5L1565.4 250.0L1567.0 254.6L1570.0 260.0L1573.0 269.2L1583.0 274.7L1592.0 278.0L1602.0 286.8L1612.0 287.9L1622.0 290.3L1626.6 293.0L1632.0 294.9L1641.0 300.0L1651.0 302.6L1661.0 301.8L1671.0 299.6L1680.0 298.5L1690.0 298.7L1700.0 294.6L1706.5 293.0L1710.0 291.0L1713.1 293.0L1730.0 298.3L1739.0 302.5L1749.0 302.6ZM1541.7 186.0L1546.0 183.3L1548.1 181.0L1549.5 172.0L1549.3 162.0L1552.8 152.0L1551.4 144.0L1549.0 140.9L1547.0 141.2L1540.0 145.9L1534.9 152.0L1535.9 163.0L1537.4 171.0L1538.0 183.0L1539.3 186.0L1540.0 186.5Z" fill="#1063dc"/>
<path d="M1720.0 43.3L1713.0 43.4L1710.0 42.7L1704.3 40.0L1701.0 39.7L1678.0 42.7L1667.0 42.5L1660.6 41.0L1658.4 34.0L1658.5 33.0L1661.0 30.3L1666.0 26.9L1676.0 26.7L1703.0 28.1L1715.0 26.8L1721.0 27.2L1723.0 28.9L1725.0 32.0L1727.1 40.0ZM1763.0 385.4L1646.0 385.4L1641.3 381.0L1640.3 379.0L1637.0 376.4L1598.0 376.4L1593.3 372.0L1592.3 370.0L1588.0 365.7L1577.0 365.3L1576.0 364.7L1571.4 360.0L1570.4 358.0L1559.0 346.7L1548.0 346.4L1540.3 339.0L1539.6 338.0L1539.3 327.0L1528.0 315.7L1526.0 314.7L1521.3 310.0L1520.6 309.0L1520.3 298.0L1510.6 289.0L1510.8 269.0L1510.5 268.0L1507.0 265.7L1500.8 259.0L1501.5 180.0L1506.0 176.3L1511.4 173.0L1513.0 167.0L1513.0 162.0L1511.9 154.0L1514.7 149.0L1519.5 145.0L1522.0 141.2L1523.0 139.0L1522.9 134.0L1524.0 130.0L1532.2 123.0L1531.5 113.0L1532.2 111.0L1536.0 107.1L1543.6 101.0L1558.0 87.0L1559.0 85.0L1576.0 67.1L1578.0 67.0L1586.0 71.5L1588.0 71.6L1589.4 71.0L1590.8 69.0L1590.9 66.0L1592.0 63.4L1598.0 56.9L1601.4 51.0L1606.0 47.0L1612.0 48.4L1618.0 51.5L1621.0 51.8L1623.0 52.9L1626.0 53.0L1628.0 52.2L1629.0 51.0L1631.1 43.0L1636.0 39.2L1638.0 39.0L1642.0 40.0L1644.4 42.0L1645.3 44.0L1642.4 50.0L1638.0 53.3L1633.0 54.1L1627.0 56.8L1623.0 57.1L1620.0 56.5L1618.0 57.0L1614.0 63.0L1612.0 64.2L1607.0 64.7L1602.0 63.9L1600.0 64.5L1597.2 67.0L1595.8 72.0L1593.0 75.6L1587.4 79.0L1583.0 82.6L1572.0 84.1L1569.0 85.2L1565.0 88.4L1552.9 101.0L1549.6 106.0L1548.7 114.0L1547.6 117.0L1544.0 121.3L1539.0 124.1L1537.0 128.0L1536.6 135.0L1535.5 138.0L1529.0 144.5L1527.0 148.2L1525.8 153.0L1525.5 161.0L1528.1 172.0L1526.6 181.0L1523.8 191.0L1525.8 201.0L1528.8 211.0L1530.3 221.0L1537.0 236.6L1543.0 246.5L1545.0 248.4L1554.2 254.0L1558.6 260.0L1561.3 269.0L1563.0 271.5L1572.8 279.0L1590.3 289.0L1599.4 299.0L1602.0 300.7L1612.0 302.9L1622.0 308.2L1632.0 307.6L1640.0 309.8L1651.0 311.0L1680.0 307.4L1691.0 308.1L1701.0 306.5L1720.0 306.4L1730.0 309.6L1739.0 310.6L1749.0 310.5L1757.0 308.6L1769.0 304.1L1779.0 301.6L1788.0 300.7L1789.9 299.0L1797.7 289.0L1810.0 284.0L1818.0 279.3L1827.0 266.4L1838.5 256.0L1850.8 240.0L1856.6 230.0L1859.4 220.0L1860.2 211.0L1867.0 204.8L1868.8 201.0L1864.6 191.0L1864.4 181.0L1868.3 171.0L1865.9 156.0L1864.7 153.0L1860.2 146.0L1858.5 141.0L1857.9 135.0L1848.0 122.6L1843.3 118.0L1841.4 113.0L1841.0 107.8L1838.0 103.2L1828.0 92.3L1806.0 71.1L1799.0 70.8L1796.0 69.7L1793.2 67.0L1791.1 63.0L1789.1 62.0L1787.0 61.7L1781.0 63.0L1778.0 62.5L1774.7 60.0L1773.3 58.0L1772.0 54.0L1770.7 53.0L1760.0 52.3L1753.0 48.6L1749.9 49.0L1744.9 51.0L1750.0 54.5L1768.0 69.2L1769.0 69.8L1779.0 69.3L1786.0 72.0L1789.0 73.8L1803.9 95.0L1811.4 103.0L1815.0 113.0L1822.6 122.0L1822.7 132.0L1820.0 152.0L1817.5 162.0L1814.2 172.0L1814.0 181.0L1816.4 191.0L1814.9 201.0L1800.0 224.8L1789.0 236.5L1782.7 240.0L1778.0 247.4L1774.3 250.0L1769.0 251.9L1765.0 257.7L1762.0 260.4L1759.0 261.7L1749.0 263.8L1740.0 268.6L1730.0 267.5L1720.0 265.2L1710.0 266.5L1690.3 267.0L1681.0 268.7L1671.0 266.9L1651.0 272.5L1641.0 268.7L1632.0 267.1L1622.0 266.3L1613.5 260.0L1602.9 250.0L1592.0 245.9L1583.0 239.4L1573.0 226.1L1567.5 217.0L1562.7 211.0L1556.3 201.0L1556.0 197.0L1556.2 191.0L1559.1 181.0L1559.0 172.0L1557.8 162.0L1562.6 152.0L1566.1 142.0L1567.9 132.0L1571.2 128.0L1583.0 118.3L1586.2 113.0L1588.8 103.0L1596.4 94.0L1599.0 86.6L1604.0 80.6L1608.2 73.0L1615.5 66.0L1616.6 64.0L1622.0 62.0L1631.0 62.9L1641.0 65.4L1651.0 65.8L1661.0 62.7L1664.0 61.1L1667.0 58.2L1669.5 54.0L1671.0 52.5L1681.0 52.9L1685.5 54.0L1690.0 56.4L1694.9 54.0L1703.3 52.0L1710.0 49.5L1729.0 51.4L1733.0 50.9L1736.0 50.0L1736.4 49.0L1732.4 44.0L1731.1 41.0L1734.9 39.0L1742.0 37.5L1750.0 37.4L1752.8 40.0L1758.2 47.0L1761.0 48.8L1781.0 47.7L1790.0 56.4L1792.0 56.9L1799.0 56.3L1803.0 58.4L1811.0 68.5L1853.8 110.0L1854.9 114.0L1854.7 121.0L1856.1 124.0L1863.2 131.0L1864.2 133.0L1864.6 140.0L1866.0 143.9L1874.7 152.0L1874.7 157.0L1875.7 160.0L1875.7 164.0L1876.7 167.0L1877.0 172.0L1885.0 179.0L1886.9 180.0L1887.2 181.0L1887.8 269.0L1879.1 278.0L1879.1 288.0L1868.6 297.0L1868.4 308.0L1858.6 317.0L1858.4 321.0L1857.4 323.0L1857.4 328.0L1856.7 329.0L1831.0 353.7L1830.0 354.4L1825.0 354.4L1823.0 355.4L1819.0 355.7L1816.7 358.0L1812.7 364.0L1811.0 365.4L1804.0 365.4L1802.0 366.4L1798.0 366.7L1792.7 374.0L1791.0 375.3L1787.0 375.3L1785.0 374.4L1781.0 374.4L1773.0 363.6L1770.0 363.6L1766.3 368.0L1766.3 372.0L1765.3 374.0L1765.4 378.0L1764.4 380.0L1764.4 384.0Z" fill="#1272d9"/>
<path d="M1720.0 40.2L1713.0 40.5L1706.0 38.0L1703.0 37.6L1679.0 40.5L1668.0 40.6L1662.0 39.5L1660.5 38.0L1659.0 34.0L1661.0 31.0L1666.0 27.4L1678.0 27.3L1704.0 29.0L1713.0 27.5L1718.0 27.4L1721.0 27.9L1722.3 29.0L1724.3 32.0L1725.0 35.0L1724.4 38.0ZM1749.0 46.1L1744.0 46.7L1740.0 45.7L1737.8 44.0L1736.7 41.0L1738.0 39.6L1741.0 38.6L1746.0 38.1L1750.0 38.4L1752.0 40.4L1753.7 45.0ZM1638.0 50.2L1632.0 50.7L1631.0 49.8L1630.6 48.0L1631.3 44.0L1637.0 39.6L1641.4 41.0L1642.7 43.0L1641.6 47.0L1640.0 49.0ZM1763.0 384.9L1646.0 384.9L1641.8 381.0L1640.8 379.0L1638.0 376.2L1637.0 375.9L1598.0 375.9L1593.8 372.0L1592.8 370.0L1588.0 365.2L1577.0 364.9L1576.0 364.2L1571.9 360.0L1570.9 358.0L1559.0 346.2L1548.0 345.9L1544.0 342.2L1540.1 338.0L1539.8 327.0L1528.0 315.2L1526.0 314.2L1521.8 310.0L1521.1 309.0L1520.8 298.0L1511.1 289.0L1511.0 268.0L1507.0 265.2L1501.2 259.0L1502.0 180.2L1506.0 176.8L1511.0 174.2L1512.0 173.0L1513.6 166.0L1512.5 154.0L1513.9 151.0L1520.0 145.4L1522.3 142.0L1523.6 139.0L1523.4 134.0L1524.6 130.0L1532.4 124.0L1532.9 122.0L1531.9 113.0L1532.8 111.0L1536.0 107.6L1544.5 101.0L1558.0 88.0L1560.0 85.1L1568.0 77.0L1576.0 67.6L1578.0 67.5L1586.0 72.2L1588.0 72.4L1590.0 71.6L1591.6 69.0L1591.7 66.0L1592.6 64.0L1598.0 58.1L1601.2 52.0L1606.0 47.4L1607.0 47.3L1612.0 49.0L1617.5 53.0L1615.0 55.3L1612.0 59.5L1608.0 61.6L1602.0 61.4L1599.0 62.5L1595.4 66.0L1593.7 72.0L1590.0 75.4L1580.0 79.9L1573.0 79.7L1570.1 81.0L1563.0 87.6L1561.5 90.0L1553.0 98.6L1547.0 105.8L1546.8 113.0L1545.8 116.0L1543.0 119.3L1538.0 122.0L1535.0 129.0L1535.1 134.0L1534.1 137.0L1532.0 139.5L1527.3 143.0L1521.3 153.0L1519.9 162.0L1521.5 172.0L1519.3 191.0L1520.0 201.0L1523.1 211.0L1524.7 221.0L1534.0 240.5L1540.7 251.0L1544.0 255.1L1551.1 260.0L1552.9 262.0L1556.4 270.0L1563.0 278.6L1580.5 289.0L1586.2 294.0L1592.0 300.3L1603.0 307.7L1613.0 310.5L1622.0 314.8L1632.0 313.7L1641.0 314.9L1651.0 314.8L1671.0 313.3L1681.0 313.4L1691.0 314.8L1720.0 313.1L1730.0 314.7L1749.0 315.9L1769.0 311.0L1779.0 310.5L1788.0 312.1L1792.0 309.0L1799.9 299.0L1808.6 293.0L1818.0 288.4L1829.9 274.0L1839.2 267.0L1841.4 264.0L1843.0 260.0L1849.6 250.0L1857.1 240.0L1867.3 222.0L1871.6 211.0L1876.8 201.0L1872.0 191.0L1871.2 182.0L1872.0 178.0L1871.2 168.0L1869.0 154.3L1861.8 145.0L1860.4 141.0L1859.4 134.0L1852.8 127.0L1849.0 120.6L1844.4 116.0L1843.4 113.0L1843.1 108.0L1842.0 106.0L1830.3 93.0L1807.1 70.0L1805.0 69.2L1800.0 69.3L1797.0 68.1L1794.8 66.0L1793.0 62.0L1791.0 60.8L1787.0 59.8L1781.0 60.9L1778.0 60.2L1775.4 58.0L1773.0 52.0L1770.6 50.0L1780.0 48.0L1784.0 50.7L1788.0 55.8L1790.0 57.3L1792.0 57.7L1798.0 56.7L1801.0 57.4L1803.0 59.0L1810.4 69.0L1834.8 93.0L1853.3 110.0L1854.4 114.0L1854.0 120.0L1854.4 122.0L1856.0 124.9L1863.0 132.0L1863.8 134.0L1863.8 140.0L1865.2 144.0L1872.3 151.0L1874.1 152.0L1874.0 157.0L1875.0 160.0L1875.0 164.0L1876.1 167.0L1876.3 172.0L1886.6 181.0L1887.4 268.0L1887.0 269.4L1878.6 278.0L1878.6 288.0L1868.1 297.0L1867.9 308.0L1866.0 309.2L1858.2 317.0L1857.9 321.0L1856.9 323.0L1856.9 328.0L1856.2 329.0L1831.0 353.2L1830.0 353.9L1825.0 353.9L1823.0 354.9L1819.0 355.2L1811.0 364.9L1804.0 364.9L1802.0 365.9L1798.0 366.2L1791.0 374.9L1781.0 373.9L1773.0 363.1L1770.0 363.0L1766.1 367.0L1765.9 372.0L1764.9 374.0L1764.9 378.0L1763.9 380.0L1763.9 384.0ZM1659.0 264.1L1651.0 264.7L1641.0 260.2L1629.0 258.3L1622.0 256.1L1616.5 250.0L1612.0 246.7L1598.1 241.0L1593.0 237.8L1583.0 228.8L1576.7 220.0L1565.9 201.0L1565.4 192.0L1566.2 181.0L1564.7 163.0L1575.1 142.0L1578.8 133.0L1584.4 127.0L1593.0 114.2L1603.7 105.0L1612.0 100.6L1619.0 89.2L1624.5 83.0L1631.0 78.2L1636.0 76.6L1642.0 75.3L1651.0 74.6L1661.0 71.0L1671.0 70.4L1690.0 71.2L1701.0 67.2L1710.0 68.6L1720.0 71.9L1729.0 73.2L1739.0 74.3L1750.0 73.2L1759.0 75.0L1769.0 80.0L1779.0 82.0L1784.0 86.7L1788.9 93.0L1794.9 98.0L1799.0 103.0L1812.0 123.0L1815.8 132.0L1814.9 152.0L1812.8 162.0L1809.2 172.0L1808.0 181.0L1809.1 192.0L1807.0 201.0L1801.7 211.0L1798.0 216.0L1792.2 221.0L1784.0 230.8L1778.0 234.2L1769.0 236.5L1764.7 240.0L1760.7 249.0L1759.0 251.2L1757.0 252.0L1730.0 259.3L1711.0 259.6L1701.0 261.3L1690.0 262.1L1681.0 262.1L1671.0 260.8Z" fill="#1480d6"/>
<path d="M1720.0 39.1L1717.0 39.7L1713.0 39.4L1704.0 36.2L1680.0 39.5L1669.0 39.7L1662.0 38.3L1660.2 36.0L1659.6 34.0L1661.7 31.0L1666.0 27.9L1678.0 27.7L1704.0 29.9L1712.0 28.1L1717.0 27.8L1721.0 28.5L1724.0 33.0L1724.2 35.0L1723.6 37.0ZM1747.0 45.1L1744.0 45.3L1741.0 44.3L1739.6 43.0L1739.1 41.0L1740.0 40.0L1743.0 39.0L1749.0 39.2L1751.1 41.0L1751.4 43.0L1750.3 44.0ZM1636.0 49.1L1633.0 48.8L1632.0 48.1L1632.0 44.1L1636.0 40.8L1638.0 40.4L1640.7 42.0L1640.8 45.0L1639.0 47.9ZM1598.0 61.0L1600.2 54.0L1602.4 51.0L1606.0 47.9L1607.0 47.6L1612.0 49.5L1614.7 52.0L1614.8 53.0L1612.6 57.0L1610.0 59.5L1607.0 60.6L1601.0 60.3ZM1785.0 59.1L1780.0 59.8L1777.0 58.3L1775.2 55.0L1774.3 51.0L1774.7 50.0L1780.0 48.5L1783.0 50.3L1785.5 53.0L1788.7 58.0ZM1807.0 68.4L1801.0 68.4L1798.0 67.7L1795.3 65.0L1792.2 59.0L1798.0 57.1L1801.0 57.8L1803.6 60.0L1805.8 63.0L1807.8 68.0ZM1763.0 384.5L1647.0 384.6L1645.3 384.0L1642.0 380.7L1641.0 378.7L1638.3 376.0L1637.0 375.6L1598.0 375.5L1588.0 364.8L1578.0 364.6L1576.4 364.0L1572.0 359.6L1571.0 357.5L1559.0 345.8L1549.0 345.6L1547.3 345.0L1540.5 338.0L1540.0 326.7L1521.5 309.0L1521.2 298.0L1514.3 291.0L1511.5 289.0L1511.4 268.0L1507.3 265.0L1501.7 259.0L1502.7 201.0L1502.2 181.0L1506.0 177.3L1511.0 174.7L1512.6 173.0L1514.2 165.0L1513.1 154.0L1516.0 149.4L1520.4 146.0L1523.2 142.0L1524.2 139.0L1523.8 134.0L1525.0 130.2L1533.3 124.0L1533.6 122.0L1532.4 112.0L1537.0 107.2L1545.5 101.0L1559.0 88.2L1560.2 86.0L1568.0 78.2L1576.1 68.0L1577.0 67.5L1579.0 68.4L1585.0 72.4L1589.1 74.0L1580.0 78.4L1573.0 78.2L1570.0 79.4L1562.0 87.0L1560.0 89.9L1549.0 101.5L1545.7 106.0L1545.7 113.0L1544.6 116.0L1542.8 118.0L1538.0 120.4L1536.8 122.0L1534.3 128.0L1533.5 136.0L1532.0 138.0L1526.6 142.0L1520.0 151.9L1518.3 161.0L1518.6 169.0L1517.6 185.0L1515.0 196.0L1514.5 201.0L1517.2 211.0L1518.7 221.0L1532.5 246.0L1541.3 259.0L1548.3 266.0L1559.0 280.7L1563.0 284.3L1573.4 290.0L1593.7 308.0L1602.0 311.9L1612.0 314.5L1622.0 320.3L1632.0 319.4L1642.0 320.1L1651.0 318.5L1661.0 317.6L1671.0 317.6L1691.0 321.2L1710.0 320.8L1720.0 319.2L1739.0 319.8L1749.0 321.5L1769.0 316.7L1788.0 320.1L1791.0 318.8L1812.4 299.0L1823.7 292.0L1833.8 279.0L1836.0 277.0L1838.0 275.8L1847.0 273.6L1850.6 270.0L1851.0 269.0L1850.3 260.0L1850.7 259.0L1855.3 250.0L1861.4 243.0L1871.0 228.2L1877.0 215.0L1880.0 204.7L1880.5 201.0L1880.0 197.2L1875.3 191.0L1874.2 187.0L1874.0 178.0L1872.7 173.0L1872.6 168.0L1870.6 154.0L1867.1 149.0L1868.0 148.7L1873.0 152.6L1873.2 158.0L1874.2 160.0L1874.3 165.0L1875.3 167.0L1875.5 172.0L1877.0 173.9L1881.8 177.0L1886.1 181.0L1887.0 268.0L1886.8 269.0L1878.2 278.0L1878.1 288.0L1876.2 289.0L1867.7 297.0L1867.5 308.0L1865.7 309.0L1857.7 317.0L1856.0 328.7L1830.7 353.0L1819.0 354.8L1816.0 357.7L1811.0 364.5L1804.0 364.6L1802.0 365.5L1798.0 365.8L1791.0 374.5L1781.0 373.5L1773.5 363.0L1772.0 362.4L1770.0 362.6L1765.7 367.0L1765.5 372.0L1764.6 374.0L1764.5 378.0L1763.8 379.0L1763.5 384.0ZM1661.0 258.0L1651.0 258.3L1642.0 254.0L1628.0 248.5L1612.0 239.1L1601.0 234.9L1596.0 231.0L1592.0 225.8L1585.4 219.0L1575.0 201.0L1573.6 197.0L1572.8 192.0L1574.0 181.0L1571.8 168.0L1571.5 162.0L1578.0 150.0L1583.5 142.0L1586.6 135.0L1594.0 123.0L1599.7 118.0L1608.4 113.0L1613.0 109.6L1625.0 93.0L1632.0 85.5L1641.0 81.7L1651.0 81.1L1661.0 76.7L1690.0 78.1L1701.0 75.4L1720.0 79.3L1730.0 79.4L1749.0 81.7L1759.0 82.1L1775.0 87.6L1779.0 89.6L1792.0 104.0L1794.6 109.0L1799.0 120.3L1808.0 130.9L1809.6 138.0L1810.4 152.0L1808.5 162.0L1804.8 172.0L1801.2 190.0L1798.0 198.2L1794.1 203.0L1790.4 211.0L1786.9 214.0L1781.8 221.0L1777.1 226.0L1765.0 232.5L1756.0 240.0L1753.3 243.0L1750.0 245.1L1739.0 246.3L1729.0 248.7L1720.0 252.5L1710.0 253.1L1700.0 256.1L1690.0 256.7L1671.0 254.3ZM1830.0 90.5L1829.7 90.0ZM1831.0 91.9L1830.4 91.0L1831.2 91.0ZM1862.0 141.1L1861.2 135.0L1860.3 133.0L1853.5 126.0L1849.2 119.0L1845.8 116.0L1844.8 114.0L1844.2 109.0L1843.1 106.0L1831.1 92.0L1832.0 91.8L1852.8 110.0L1853.9 114.0L1853.5 122.0L1855.0 125.0L1862.0 132.0L1863.0 134.0L1862.7 141.0ZM1863.0 143.4L1863.0 141.1ZM1867.0 148.9L1866.5 148.0L1867.1 148.0Z" fill="#0e8ed1"/>
<path d="M1677.0 39.0L1670.0 39.1L1663.0 37.9L1661.0 36.2L1660.1 34.0L1662.4 31.0L1666.0 28.4L1672.0 28.0L1693.0 29.2L1704.0 30.9L1712.0 28.6L1718.0 28.3L1721.0 29.2L1723.4 33.0L1723.0 36.3L1721.0 37.8L1718.0 38.8L1712.0 38.4L1704.0 34.8L1695.0 36.9ZM1746.0 44.0L1744.0 44.0L1742.0 43.1L1741.3 41.0L1742.9 40.0L1745.0 39.7L1747.8 40.0L1749.0 40.8L1749.3 42.0L1748.4 43.0ZM1638.0 47.1L1636.0 47.8L1634.0 47.7L1633.0 47.1L1632.6 46.0L1633.2 44.0L1637.0 41.2L1639.0 41.8L1639.8 43.0L1639.5 45.0ZM1609.0 59.1L1606.0 59.8L1602.0 59.4L1600.1 59.0L1599.8 58.0L1600.3 55.0L1602.0 52.0L1605.0 49.0L1607.0 48.0L1611.9 50.0L1613.5 52.0L1613.6 53.0L1612.2 56.0ZM1782.0 59.1L1779.0 58.7L1776.9 57.0L1775.6 52.0L1776.4 50.0L1780.0 48.9L1783.0 50.8L1785.7 54.0L1786.8 57.0L1785.9 58.0ZM1806.0 67.1L1801.0 67.8L1798.0 66.8L1795.6 64.0L1794.2 60.0L1794.4 59.0L1798.0 57.5L1802.0 58.8L1805.4 63.0L1806.4 66.0ZM1580.0 77.4L1577.0 77.7L1570.8 77.0L1571.2 75.0L1573.0 72.0L1577.0 67.9L1581.3 70.0L1585.7 74.0L1585.0 75.0ZM1657.0 252.0L1651.0 252.9L1645.4 250.0L1641.0 245.8L1632.0 242.4L1627.6 240.0L1624.0 235.5L1622.0 230.0L1615.0 230.3L1602.0 228.1L1596.8 222.0L1586.4 205.0L1580.8 191.0L1580.9 181.0L1578.1 171.0L1578.6 163.0L1586.0 147.5L1591.5 138.0L1600.1 125.0L1603.0 121.9L1621.2 113.0L1622.0 112.0L1624.6 103.0L1632.7 93.0L1641.0 88.3L1651.0 86.0L1661.0 81.6L1674.0 82.0L1690.0 83.5L1700.0 81.6L1719.0 84.6L1730.0 84.1L1743.0 86.7L1749.0 88.6L1759.0 89.0L1769.0 90.8L1775.0 93.7L1779.0 97.1L1784.5 103.0L1789.7 110.0L1792.4 116.0L1794.5 123.0L1798.0 130.4L1801.0 134.1L1803.0 137.8L1805.5 146.0L1806.3 152.0L1804.6 162.0L1796.8 183.0L1793.0 187.8L1787.6 191.0L1778.5 200.0L1778.1 201.0L1778.7 211.0L1774.3 220.0L1769.4 224.0L1760.7 228.0L1750.0 237.4L1745.0 239.3L1729.0 242.8L1720.0 245.8L1710.0 246.0L1700.0 250.7L1690.0 251.0L1671.0 247.8ZM1535.0 122.4L1533.1 117.0L1532.8 112.0L1538.0 106.8L1546.0 101.8L1546.8 102.0L1544.8 106.0L1544.9 112.0L1544.2 115.0L1542.0 117.6L1537.2 120.0ZM1852.0 120.5L1846.0 114.6L1843.6 104.0L1849.0 106.9L1852.8 111.0L1853.5 114.0ZM1525.0 141.4L1524.2 134.0L1525.0 131.0L1530.0 127.2L1533.4 126.0L1533.4 133.0L1532.6 136.0L1531.0 137.8ZM1763.0 384.1L1646.0 384.1L1638.9 376.0L1637.0 375.2L1598.0 375.1L1594.0 371.1L1593.0 369.1L1588.0 364.4L1576.9 364.0L1572.0 359.0L1571.0 357.0L1559.0 345.4L1547.9 345.0L1540.9 338.0L1540.8 328.0L1540.0 326.1L1528.9 315.0L1526.9 314.0L1521.9 309.0L1521.6 298.0L1514.9 291.0L1511.9 289.0L1511.8 268.0L1504.0 261.1L1502.1 259.0L1501.9 258.0L1503.2 201.0L1502.6 181.0L1506.0 177.7L1511.4 175.0L1513.2 173.0L1513.6 170.0L1514.7 168.0L1515.0 163.0L1513.5 155.0L1516.0 150.4L1520.1 148.0L1517.1 161.0L1517.4 168.0L1515.9 186.0L1514.0 191.3L1509.1 198.0L1509.0 203.1L1514.5 225.0L1517.3 230.0L1524.0 238.4L1530.8 251.0L1535.0 257.4L1556.8 285.0L1560.6 288.0L1573.0 295.8L1587.6 309.0L1602.0 315.8L1612.0 318.6L1622.0 324.8L1632.0 324.9L1641.0 326.6L1651.0 324.5L1671.0 323.4L1681.0 324.7L1691.0 327.2L1700.0 326.6L1710.0 327.3L1720.0 325.3L1739.0 326.0L1749.0 326.9L1769.0 322.8L1779.9 325.0L1788.0 324.7L1794.0 322.3L1801.5 318.0L1807.7 313.0L1812.5 307.0L1818.0 302.0L1830.0 299.0L1832.6 295.0L1834.2 289.0L1837.0 285.3L1839.0 283.9L1848.0 280.7L1853.9 275.0L1858.0 270.0L1857.6 260.0L1858.0 259.0L1863.7 250.0L1874.1 236.0L1878.0 229.3L1879.0 226.4L1881.5 206.0L1881.7 197.0L1881.0 193.6L1877.3 191.0L1875.6 188.0L1874.3 174.0L1875.0 173.3L1882.0 177.9L1885.6 182.0L1886.6 268.0L1886.3 269.0L1877.7 278.0L1877.9 287.0L1867.3 297.0L1867.1 308.0L1865.1 309.0L1857.4 317.0L1857.1 321.0L1856.2 323.0L1856.1 328.0L1830.0 353.1L1825.0 353.2L1823.0 354.1L1819.0 354.4L1816.0 357.1L1811.0 364.1L1804.0 364.2L1802.0 365.1L1798.0 365.4L1796.0 367.1L1791.0 374.1L1788.0 374.2L1785.0 373.2L1781.0 373.1L1774.0 362.9L1772.0 362.0L1770.0 362.2L1765.3 367.0L1765.2 371.0L1764.2 374.0Z" fill="#099dcc"/>
<path d="M1681.0 38.1L1672.0 38.6L1665.0 37.8L1662.0 36.5L1660.8 34.0L1662.9 31.0L1666.0 28.9L1671.0 28.3L1695.0 29.9L1700.0 31.0L1701.8 32.0L1702.3 33.0L1699.4 35.0L1696.0 36.0ZM1718.0 38.2L1714.0 38.2L1710.4 37.0L1706.5 34.0L1706.3 32.0L1709.1 30.0L1713.0 28.8L1720.0 29.1L1722.5 32.0L1722.8 35.0L1721.0 37.0ZM1745.0 42.1L1744.5 42.0L1745.0 41.0L1745.6 42.0ZM1637.0 46.2L1635.0 46.5L1634.0 46.2L1633.7 45.0L1637.0 42.1L1638.0 42.4L1638.5 44.0ZM1607.0 59.0L1602.0 58.7L1600.9 58.0L1600.6 56.0L1602.4 52.0L1605.0 49.4L1607.0 48.3L1612.0 50.9L1612.7 53.0L1610.6 57.0ZM1783.0 58.2L1780.0 58.4L1777.0 56.0L1776.4 52.0L1777.7 50.0L1780.0 49.4L1781.0 49.8L1785.2 54.0L1785.7 57.0ZM1803.0 67.1L1799.0 66.7L1797.0 65.2L1795.3 61.0L1795.6 59.0L1798.0 57.8L1800.0 58.1L1803.0 60.1L1805.7 65.0L1805.0 66.6ZM1581.0 76.1L1577.0 76.8L1573.0 76.2L1572.1 75.0L1573.5 72.0L1577.0 68.3L1581.0 70.3L1583.8 73.0L1584.1 74.0L1583.3 75.0ZM1695.0 243.0L1687.0 242.9L1680.0 241.9L1674.0 238.1L1671.0 234.8L1664.6 230.0L1661.0 228.4L1656.0 229.8L1655.0 230.6L1651.0 241.2L1650.0 239.0L1648.0 237.4L1640.5 236.0L1634.8 233.0L1632.0 229.9L1629.0 221.0L1622.0 216.7L1607.0 220.1L1603.0 220.1L1602.0 219.4L1599.0 212.0L1596.1 201.0L1591.8 197.0L1588.2 191.0L1587.7 181.0L1583.9 172.0L1585.5 163.0L1589.4 152.0L1595.0 142.9L1602.0 133.6L1612.0 126.9L1615.5 123.0L1622.0 119.4L1630.1 113.0L1633.4 103.0L1638.8 97.0L1643.9 93.0L1661.0 86.2L1673.4 87.0L1690.0 89.3L1700.0 88.7L1710.0 91.6L1730.0 88.6L1736.7 91.0L1749.0 98.3L1759.0 97.4L1763.0 96.2L1769.0 96.4L1776.9 103.0L1781.7 109.0L1785.6 116.0L1787.6 122.0L1794.9 136.0L1797.3 142.0L1801.0 147.8L1802.3 152.0L1801.0 161.0L1799.0 166.2L1794.2 172.0L1788.0 181.7L1771.1 191.0L1767.1 201.0L1769.0 203.8L1771.3 210.0L1771.3 211.0L1769.0 215.8L1763.0 216.4L1761.0 215.8L1759.0 214.2L1757.0 217.4L1753.0 221.8L1750.1 230.0L1749.1 231.0L1740.0 234.1L1729.0 234.4L1720.0 238.1L1710.0 236.9L1700.0 242.6ZM1535.0 120.1L1533.2 116.0L1533.1 112.0L1538.0 107.2L1542.0 105.0L1543.9 105.0L1544.3 112.0L1543.4 115.0L1541.0 117.4ZM1852.0 117.7L1850.0 117.1L1846.5 114.0L1845.5 108.0L1845.9 106.0L1849.0 107.4L1852.5 111.0L1853.1 114.0ZM1527.0 139.1L1526.0 139.1L1525.0 136.9L1524.6 134.0L1525.4 131.0L1530.0 127.7L1532.0 127.3L1532.7 130.0L1532.3 135.0L1530.7 137.0ZM1516.0 158.9L1515.0 158.1L1514.0 155.0L1515.5 152.0L1517.0 150.9L1517.7 152.0L1517.5 154.0ZM1762.0 383.9L1647.0 383.9L1646.0 383.6L1642.4 380.0L1641.4 378.0L1638.0 375.1L1598.0 374.6L1594.4 371.0L1593.4 369.0L1588.0 364.1L1577.0 363.6L1572.5 359.0L1571.5 357.0L1560.0 345.6L1558.0 344.9L1548.0 344.6L1541.4 338.0L1541.1 328.0L1540.4 326.0L1529.0 314.6L1527.0 313.6L1522.4 309.0L1521.9 298.0L1515.0 290.6L1512.4 289.0L1512.2 268.0L1502.4 259.0L1503.8 201.0L1502.9 181.0L1506.2 178.0L1512.3 175.0L1513.4 174.0L1514.8 170.0L1515.5 170.0L1515.9 174.0L1514.6 187.0L1512.4 191.0L1508.0 194.9L1507.1 201.0L1510.0 222.5L1512.0 229.4L1513.8 233.0L1524.0 246.3L1533.3 262.0L1553.0 287.6L1557.0 291.0L1569.2 299.0L1579.0 307.8L1589.0 313.9L1604.0 320.9L1612.0 323.5L1622.0 328.9L1632.0 329.7L1642.0 331.6L1651.0 330.3L1661.0 331.1L1671.0 329.1L1680.0 329.5L1691.0 332.0L1701.0 331.5L1710.0 333.8L1730.0 331.4L1749.0 332.5L1769.0 328.6L1779.0 329.2L1789.0 328.0L1797.0 324.6L1808.0 318.2L1813.0 313.8L1818.0 308.3L1828.0 304.5L1838.0 299.0L1840.5 294.0L1843.0 290.8L1853.0 283.0L1860.0 275.0L1863.4 270.0L1868.7 259.0L1879.4 243.0L1881.0 235.1L1883.2 200.0L1882.1 192.0L1881.0 190.7L1878.0 189.8L1876.3 187.0L1875.6 183.0L1875.8 176.0L1877.0 175.5L1881.0 177.5L1884.9 182.0L1884.5 201.0L1885.2 211.0L1886.3 268.0L1877.8 277.0L1877.2 279.0L1877.5 287.0L1866.9 297.0L1866.9 307.0L1857.0 317.0L1855.6 328.0L1830.0 352.6L1819.0 354.1L1815.6 357.0L1811.0 363.6L1804.0 363.9L1801.0 364.9L1798.0 365.1L1795.6 367.0L1791.0 373.6L1788.0 373.9L1785.7 373.0L1782.0 372.9L1778.4 369.0L1774.0 362.4L1772.0 361.7L1769.0 362.3L1764.9 367.0L1764.8 371.0L1764.0 373.2L1762.9 383.0Z" fill="#0ea7c2"/>
<path d="M1676.0 38.1L1671.0 38.1L1665.0 37.2L1662.3 36.0L1661.4 34.0L1662.5 32.0L1666.0 29.3L1671.0 28.6L1693.0 30.1L1697.5 31.0L1699.3 32.0L1699.7 33.0L1698.0 34.5L1694.0 35.8ZM1719.0 37.3L1715.0 37.8L1711.0 36.6L1708.0 34.0L1707.9 32.0L1710.0 30.2L1713.0 29.2L1717.0 28.9L1720.0 29.5L1722.0 32.0L1722.5 34.0L1721.4 36.0ZM1608.0 58.1L1603.0 58.2L1602.0 57.9L1601.1 56.0L1602.7 52.0L1607.0 48.6L1611.0 50.7L1611.9 52.0L1610.7 56.0ZM1784.0 57.3L1781.0 57.9L1778.6 57.0L1777.1 54.0L1777.5 51.0L1780.0 49.9L1783.0 51.6L1785.2 55.0L1785.0 56.5ZM1804.0 66.4L1800.0 66.6L1797.5 65.0L1795.9 61.0L1796.5 59.0L1798.0 58.3L1800.0 58.4L1802.5 60.0L1805.0 64.0L1805.0 65.5ZM1578.0 76.1L1573.2 75.0L1573.9 72.0L1577.0 68.7L1581.0 70.7L1583.0 73.0L1583.0 74.0L1582.0 74.9ZM1683.0 233.2L1681.0 233.7L1680.0 233.1L1674.0 227.2L1665.7 222.0L1661.0 217.8L1651.0 216.7L1645.5 220.0L1642.0 224.6L1641.0 224.4L1638.5 220.0L1630.0 213.8L1622.0 210.1L1612.0 210.4L1610.3 209.0L1608.0 205.5L1604.9 196.0L1601.9 191.0L1603.9 171.0L1602.0 165.3L1600.0 164.8L1598.4 163.0L1597.7 158.0L1597.8 152.0L1604.0 144.0L1612.0 138.9L1619.7 132.0L1628.2 122.0L1639.0 113.0L1643.6 103.0L1646.2 100.0L1651.0 96.3L1658.0 93.0L1661.0 91.8L1665.0 92.1L1676.0 93.5L1690.0 97.2L1700.0 96.2L1710.0 98.0L1720.0 95.2L1730.0 94.3L1735.3 102.0L1737.2 112.0L1739.0 113.8L1745.0 115.5L1750.0 117.7L1759.0 118.4L1769.0 120.3L1779.0 124.8L1784.9 133.0L1790.0 138.7L1793.9 147.0L1797.0 152.0L1796.2 155.0L1793.0 160.3L1789.0 163.3L1787.0 163.0L1782.0 158.7L1777.2 152.0L1774.0 150.1L1770.3 140.0L1769.0 137.5L1768.0 137.8L1766.9 139.0L1765.8 142.0L1768.4 164.0L1769.0 167.1L1773.0 165.5L1773.7 172.0L1769.0 178.9L1768.4 181.0L1759.0 191.5L1750.4 205.0L1740.0 213.8L1738.0 213.9L1730.0 211.1L1722.0 213.7L1720.0 215.1L1714.5 221.0L1701.0 231.5L1698.0 231.6L1691.0 229.8ZM1537.0 118.5L1535.0 118.8L1534.0 117.4L1533.1 113.0L1533.5 112.0L1538.0 107.5L1541.0 106.0L1542.9 106.0L1543.7 111.0L1543.2 114.0L1541.0 116.7ZM1851.0 116.4L1848.0 114.7L1846.9 113.0L1846.2 109.0L1847.0 107.1L1849.0 107.9L1852.1 111.0L1852.5 114.0L1852.0 115.8ZM1529.0 137.1L1527.0 137.9L1526.0 137.5L1525.0 134.0L1526.0 130.7L1531.0 128.2L1532.0 129.6L1531.9 134.0L1531.0 135.7ZM1761.4 133.0L1762.0 132.0L1759.0 129.2L1757.4 132.0L1759.0 133.8ZM1516.0 155.5L1515.0 155.5L1514.8 155.0L1516.0 154.5ZM1762.0 383.6L1647.0 383.6L1646.0 383.2L1642.8 380.0L1641.8 378.0L1638.0 374.7L1598.0 374.2L1594.8 371.0L1593.8 369.0L1588.6 364.0L1577.0 363.2L1572.9 359.0L1571.9 357.0L1560.0 345.2L1558.0 344.6L1548.0 344.2L1541.8 338.0L1541.4 328.0L1540.8 326.0L1529.0 314.2L1527.0 313.2L1522.8 309.0L1522.0 297.4L1515.0 290.2L1513.0 289.2L1512.4 288.0L1512.6 268.0L1510.0 265.2L1508.0 264.2L1502.8 259.0L1502.5 258.0L1504.0 211.0L1505.0 201.0L1503.4 186.0L1503.5 181.0L1507.0 177.8L1510.0 176.2L1514.2 175.0L1514.5 183.0L1513.7 187.0L1512.0 189.8L1507.6 193.0L1506.5 195.0L1505.0 201.0L1506.0 203.8L1508.9 228.0L1510.3 233.0L1530.6 265.0L1553.0 292.6L1562.8 299.0L1568.8 305.0L1576.0 310.5L1585.0 315.7L1593.0 319.1L1602.0 324.9L1612.0 327.8L1617.0 331.5L1622.0 334.0L1632.0 333.7L1642.0 336.0L1651.0 335.9L1661.0 336.7L1671.0 333.3L1680.0 333.4L1691.0 336.4L1701.0 336.1L1710.0 339.4L1719.0 339.4L1730.0 336.3L1739.0 336.1L1750.0 336.8L1778.0 333.2L1790.0 330.8L1798.0 327.9L1812.4 319.0L1820.6 312.0L1838.0 302.4L1846.0 293.2L1857.0 284.5L1863.5 276.0L1871.0 264.7L1876.4 252.0L1881.0 246.4L1882.5 235.0L1882.9 220.0L1884.0 211.4L1885.9 268.0L1877.3 277.0L1876.8 279.0L1877.2 287.0L1873.0 291.2L1871.0 292.2L1866.5 297.0L1866.6 307.0L1857.0 316.3L1855.7 322.0L1855.2 328.0L1830.0 352.2L1824.0 352.7L1818.0 354.2L1815.2 357.0L1811.0 363.2L1804.0 363.6L1797.4 365.0L1795.2 367.0L1791.0 373.2L1788.0 373.6L1786.0 372.7L1782.0 372.6L1778.8 369.0L1774.0 362.0L1772.0 361.3L1769.0 361.8L1764.6 367.0L1764.5 371.0L1763.7 373.0L1762.6 383.0ZM1883.0 188.4L1879.0 188.9L1877.1 187.0L1876.3 183.0L1877.0 176.6L1881.0 178.0L1883.9 182.0L1883.9 186.0Z" fill="#1eafb3"/>
<path d="M1682.0 37.0L1674.0 37.7L1668.0 37.3L1663.3 36.0L1662.2 35.0L1662.0 34.0L1663.1 32.0L1666.0 29.7L1672.0 28.9L1693.0 30.6L1697.0 31.9L1697.8 33.0L1697.0 34.0L1694.6 35.0ZM1718.0 37.1L1714.0 37.2L1711.0 36.0L1709.0 34.0L1708.9 32.0L1710.0 30.8L1713.0 29.5L1717.0 29.3L1720.0 29.9L1721.6 32.0L1721.9 34.0L1720.5 36.0ZM1606.0 58.0L1602.0 57.0L1601.5 55.0L1604.0 51.0L1607.0 48.9L1610.7 51.0L1611.4 53.0L1609.0 57.0ZM1783.0 57.1L1780.0 57.2L1778.4 56.0L1777.6 53.0L1778.4 51.0L1781.0 50.7L1783.8 53.0L1784.5 56.0ZM1803.0 66.2L1800.0 66.1L1798.0 64.9L1796.4 61.0L1797.4 59.0L1800.0 58.7L1803.1 61.0L1804.6 64.0L1804.6 65.0ZM1580.0 75.0L1576.0 75.3L1574.0 74.3L1574.5 72.0L1577.0 69.1L1580.8 71.0L1582.2 73.0L1581.9 74.0ZM1681.0 222.3L1671.0 216.5L1665.0 209.4L1661.0 207.0L1651.0 208.0L1646.2 211.0L1642.0 213.0L1641.0 212.9L1633.0 207.0L1620.0 203.7L1615.1 201.0L1613.7 194.0L1613.3 181.0L1611.4 176.0L1608.9 163.0L1608.7 152.0L1612.0 149.1L1616.9 146.0L1619.6 142.0L1622.0 139.8L1627.4 137.0L1632.0 133.6L1638.3 122.0L1650.4 113.0L1651.7 106.0L1653.7 103.0L1661.0 100.7L1662.0 101.3L1663.9 103.0L1666.8 108.0L1669.0 110.0L1669.4 113.0L1671.0 113.8L1680.0 112.3L1685.0 108.1L1690.0 106.1L1700.0 104.6L1710.0 104.6L1720.0 102.1L1723.0 103.7L1725.0 106.0L1726.7 110.0L1727.2 114.0L1730.0 119.4L1737.0 125.4L1742.1 132.0L1749.0 135.7L1752.0 138.0L1759.0 146.0L1761.8 152.0L1761.0 162.0L1756.1 171.0L1754.0 178.0L1750.4 183.0L1746.9 195.0L1743.2 201.0L1741.0 202.8L1739.0 203.9L1726.2 203.0L1718.2 201.0L1714.4 199.0L1710.0 198.3L1705.6 202.0L1700.0 215.6L1696.0 216.9L1690.0 217.4ZM1536.0 118.1L1535.0 117.9L1534.0 116.2L1533.3 113.0L1533.8 112.0L1538.0 107.9L1540.0 106.8L1542.0 106.6L1543.1 111.0L1542.7 114.0L1541.0 116.1ZM1851.0 115.1L1848.4 114.0L1847.3 112.0L1846.9 109.0L1848.0 108.1L1850.0 109.2L1851.6 111.0L1851.8 114.0ZM1529.0 136.3L1527.0 136.9L1526.0 136.1L1525.5 134.0L1526.3 131.0L1530.3 129.0L1531.4 130.0L1531.5 133.0L1530.6 135.0ZM1506.0 192.7L1505.0 192.4L1504.1 189.0L1503.6 182.0L1507.0 178.2L1510.0 176.6L1513.0 176.3L1513.8 178.0L1513.8 183.0L1512.9 187.0L1511.0 189.5ZM1880.0 187.4L1878.0 186.8L1877.0 184.1L1877.0 179.0L1878.0 177.5L1881.0 178.8L1882.7 182.0L1882.0 185.4ZM1762.0 383.3L1647.0 383.3L1643.2 380.0L1642.0 377.8L1639.2 375.0L1638.0 374.4L1599.0 374.3L1595.2 371.0L1594.0 368.8L1589.0 363.8L1587.0 363.3L1578.0 363.2L1577.0 362.7L1573.4 359.0L1572.0 356.6L1560.0 344.8L1548.0 343.8L1541.7 337.0L1541.7 328.0L1541.2 326.0L1529.2 314.0L1527.0 312.8L1523.0 308.6L1522.7 299.0L1522.2 297.0L1512.7 288.0L1512.9 268.0L1510.2 265.0L1508.0 263.8L1502.8 258.0L1504.2 221.0L1505.0 213.2L1506.0 215.2L1508.0 232.2L1510.0 238.7L1516.4 248.0L1528.3 268.0L1553.0 297.0L1558.2 301.0L1566.7 309.0L1576.3 315.0L1585.0 319.7L1593.0 323.1L1603.0 330.1L1616.0 336.7L1622.0 338.6L1632.0 337.4L1642.0 340.0L1651.0 340.8L1661.0 340.8L1671.0 337.2L1680.0 337.2L1683.2 338.0L1690.0 342.9L1700.0 341.2L1710.0 344.3L1720.0 345.2L1731.0 340.9L1739.0 339.8L1750.0 340.3L1769.0 339.1L1797.0 332.0L1808.0 325.6L1824.1 314.0L1837.0 306.5L1848.0 295.5L1857.5 289.0L1871.7 271.0L1873.1 268.0L1874.6 260.0L1876.6 254.0L1878.0 251.9L1881.0 249.7L1883.0 244.8L1884.0 244.6L1885.3 257.0L1885.5 268.0L1876.8 277.0L1876.3 279.0L1876.7 287.0L1866.6 296.0L1866.1 298.0L1866.3 307.0L1856.8 316.0L1854.8 328.0L1830.0 351.8L1824.0 352.4L1818.0 353.8L1815.0 356.8L1811.0 362.7L1810.0 363.3L1804.0 363.3L1797.0 364.8L1795.0 366.8L1791.0 372.7L1790.0 373.3L1782.0 372.3L1774.5 362.0L1772.0 360.9L1769.0 361.4L1765.0 365.4L1764.2 367.0L1764.2 371.0L1763.4 373.0L1763.3 377.0L1762.4 379.0Z" fill="#2eb7a4"/>
<path d="M1679.0 37.0L1673.0 37.4L1668.0 36.9L1664.0 35.7L1662.9 35.0L1662.6 34.0L1663.6 32.0L1666.1 30.0L1672.0 29.2L1691.0 30.7L1695.2 32.0L1695.9 33.0L1694.9 34.0L1692.0 35.0ZM1719.0 36.3L1716.0 36.9L1712.1 36.0L1709.9 34.0L1709.8 32.0L1710.5 31.0L1713.0 29.9L1716.0 29.5L1719.1 30.0L1720.5 31.0L1721.4 33.0L1720.8 35.0ZM1607.0 57.4L1603.0 57.0L1602.0 55.0L1603.4 52.0L1607.0 49.3L1610.1 51.0L1610.9 53.0L1609.3 56.0ZM1783.0 56.5L1781.0 56.8L1779.0 55.8L1778.2 54.0L1779.0 51.3L1781.0 51.1L1783.3 53.0L1784.1 55.0ZM1804.0 65.1L1802.0 65.9L1799.0 65.2L1797.3 63.0L1797.1 60.0L1799.0 58.9L1801.0 59.5L1803.5 62.0ZM1580.0 74.3L1577.0 74.6L1574.9 74.0L1575.0 72.0L1577.0 69.7L1579.0 70.3L1581.1 72.0L1581.4 73.0ZM1537.0 117.3L1535.0 117.0L1533.6 113.0L1537.0 108.9L1541.0 107.0L1542.0 107.6L1542.5 109.0L1542.7 112.0L1542.1 114.0L1540.2 116.0ZM1850.0 114.0L1848.0 112.0L1848.0 109.0L1849.0 109.2L1851.0 111.0L1851.0 113.6ZM1736.0 181.1L1730.0 181.6L1727.8 181.0L1727.4 177.0L1728.0 171.0L1727.4 169.0L1726.0 168.3L1720.0 167.8L1715.4 172.0L1713.6 175.0L1710.0 176.9L1706.3 172.0L1696.0 161.0L1691.0 157.8L1684.1 156.0L1682.0 154.1L1681.1 152.0L1683.0 147.9L1686.0 144.1L1692.0 138.9L1694.0 134.2L1694.2 132.0L1688.2 123.0L1689.2 119.0L1691.0 115.9L1700.0 115.9L1710.0 114.0L1716.1 115.0L1717.9 117.0L1719.2 123.0L1730.0 131.5L1733.4 138.0L1743.4 142.0L1749.0 145.4L1754.2 152.0L1754.1 161.0L1752.8 164.0L1749.0 169.0L1744.9 172.0L1739.0 180.6ZM1686.0 202.0L1681.0 202.1L1671.0 196.4L1661.0 197.4L1642.0 191.7L1636.2 191.0L1642.0 189.5L1647.0 182.0L1647.2 181.0L1643.2 172.0L1642.0 170.6L1641.0 170.9L1637.6 176.0L1632.0 178.5L1627.4 176.0L1623.2 172.0L1623.1 171.0L1627.1 161.0L1629.8 157.0L1632.0 155.0L1641.0 154.6L1651.0 161.0L1661.0 162.4L1662.8 161.0L1670.5 152.0L1668.1 145.0L1662.0 138.3L1659.0 136.5L1652.0 135.3L1650.3 134.0L1649.2 132.0L1651.0 129.1L1653.0 128.9L1659.4 130.0L1665.9 132.0L1671.0 134.9L1674.0 149.0L1675.0 151.0L1677.0 152.2L1678.0 154.0L1678.3 162.0L1684.0 165.0L1686.3 167.0L1689.8 173.0L1694.7 178.0L1701.6 191.0L1691.0 201.2ZM1529.0 135.4L1527.0 135.8L1526.0 134.0L1527.0 131.1L1530.0 129.7L1530.9 131.0L1530.8 133.0ZM1729.5 166.0L1730.5 162.0L1730.0 159.9L1729.0 160.1L1728.1 162.0L1729.0 166.8ZM1507.0 190.4L1506.0 190.7L1505.0 189.8L1503.9 182.0L1507.0 178.5L1510.0 177.0L1512.2 177.0L1513.1 179.0L1512.6 186.0L1511.0 188.5ZM1879.0 186.0L1878.0 184.9L1877.6 182.0L1877.9 179.0L1879.0 178.4L1881.0 179.8L1881.7 182.0L1880.6 185.0ZM1761.0 382.9L1647.0 382.9L1643.7 380.0L1639.7 375.0L1638.0 374.1L1599.0 373.9L1589.0 363.5L1587.0 362.9L1578.0 362.9L1573.9 359.0L1572.0 356.1L1560.0 344.4L1558.0 343.9L1549.0 343.9L1548.0 343.3L1542.1 337.0L1542.1 328.0L1541.5 326.0L1523.1 308.0L1523.1 299.0L1522.5 297.0L1513.1 288.0L1513.4 268.0L1512.0 266.1L1508.0 263.3L1503.1 258.0L1505.0 225.1L1506.0 226.3L1507.7 238.0L1509.0 241.9L1515.4 250.0L1524.5 269.0L1543.0 289.0L1553.0 301.5L1564.0 311.8L1580.0 321.7L1593.0 327.0L1602.0 334.6L1607.6 338.0L1621.0 342.9L1632.0 342.0L1651.0 345.4L1662.0 344.2L1671.0 342.0L1677.0 343.9L1683.7 348.0L1690.0 349.5L1700.0 347.5L1720.0 350.1L1732.0 345.1L1739.0 343.0L1750.0 343.4L1769.0 342.7L1788.0 337.1L1799.0 335.0L1837.0 309.7L1848.0 299.2L1861.0 289.1L1866.0 281.2L1871.0 277.3L1874.0 272.6L1874.8 270.0L1875.5 260.0L1876.6 256.0L1879.0 252.4L1883.0 250.4L1884.0 251.7L1884.7 256.0L1885.2 268.0L1876.2 277.0L1876.0 287.0L1866.2 296.0L1865.7 298.0L1865.9 307.0L1856.4 316.0L1855.9 320.0L1855.1 322.0L1854.9 327.0L1854.3 328.0L1830.0 351.3L1829.0 351.9L1824.0 352.1L1818.0 353.5L1815.0 356.3L1810.0 362.9L1804.0 362.9L1797.0 364.5L1790.0 372.9L1782.0 371.9L1775.0 361.9L1773.0 360.7L1769.0 361.0L1764.2 366.0L1762.9 377.0L1762.1 379.0L1761.9 382.0Z" fill="#51ba92"/>
<path d="M1683.0 36.1L1676.0 36.9L1670.0 36.8L1665.0 35.6L1663.3 34.0L1664.1 32.0L1666.9 30.0L1672.0 29.4L1689.9 31.0L1693.1 32.0L1693.9 33.0L1691.0 34.5ZM1718.0 36.2L1715.0 36.4L1712.0 35.4L1710.6 34.0L1710.6 32.0L1711.4 31.0L1714.0 30.0L1719.0 30.4L1720.6 32.0L1720.7 34.0ZM1606.0 57.0L1603.0 56.3L1602.4 55.0L1603.8 52.0L1607.0 49.6L1609.4 51.0L1610.3 53.0L1608.6 56.0ZM1782.0 56.2L1780.3 56.0L1779.1 55.0L1778.8 53.0L1780.0 51.5L1782.0 52.2L1783.4 54.0L1783.5 55.0ZM1803.0 65.2L1801.0 65.5L1799.0 64.7L1797.5 62.0L1797.7 60.0L1800.0 59.3L1802.0 60.6L1803.7 63.0L1803.8 64.0ZM1580.0 73.5L1576.0 73.7L1575.6 72.0L1577.0 70.3L1578.0 70.4L1580.3 72.0ZM1539.0 116.1L1536.0 116.8L1535.0 116.3L1533.9 113.0L1537.3 109.0L1539.0 107.9L1541.0 107.6L1542.0 109.0L1542.0 113.0L1541.0 114.7ZM1850.0 112.4L1849.0 111.9L1849.0 110.2L1850.1 111.0ZM1529.0 134.4L1528.0 134.9L1527.0 134.4L1526.8 133.0L1527.0 131.9L1529.0 130.6L1530.0 130.8L1530.3 132.0ZM1507.0 189.3L1506.0 189.2L1505.0 187.8L1504.4 182.0L1507.0 178.9L1511.0 177.4L1512.1 178.0L1512.5 179.0L1512.3 185.0L1510.3 188.0ZM1880.0 183.1L1879.0 183.8L1879.0 179.7L1880.0 179.9L1880.5 181.0ZM1761.0 382.6L1647.0 382.6L1640.0 374.8L1638.0 373.7L1599.0 373.6L1589.0 363.1L1578.0 362.6L1574.0 358.7L1572.4 356.0L1560.0 344.0L1549.0 343.6L1548.2 343.0L1542.4 337.0L1542.4 328.0L1541.9 326.0L1530.0 313.8L1527.2 312.0L1523.4 308.0L1523.4 299.0L1522.9 297.0L1516.0 289.8L1513.4 288.0L1513.8 268.0L1512.5 266.0L1508.2 263.0L1503.4 258.0L1505.4 238.0L1506.0 237.1L1508.2 244.0L1512.0 247.6L1514.4 251.0L1519.0 264.7L1521.6 270.0L1539.1 289.0L1553.0 306.2L1563.0 315.8L1574.0 323.6L1592.0 331.0L1601.0 338.6L1612.0 344.0L1622.0 347.7L1632.0 346.7L1642.0 347.7L1651.0 349.5L1671.0 346.7L1681.0 351.8L1691.0 353.9L1700.0 352.5L1720.0 354.2L1739.0 346.3L1769.0 346.3L1788.0 340.1L1798.0 339.2L1800.6 338.0L1818.0 325.5L1838.0 312.3L1847.0 303.7L1861.0 292.2L1863.0 289.7L1867.0 282.4L1872.0 279.4L1875.3 273.0L1876.0 271.0L1876.1 260.0L1877.8 255.0L1880.0 253.1L1883.0 252.9L1884.4 258.0L1884.7 268.0L1881.0 272.1L1877.0 275.0L1875.3 277.0L1876.0 286.0L1872.8 290.0L1870.0 291.8L1865.7 296.0L1865.3 298.0L1865.6 306.0L1856.1 316.0L1855.6 320.0L1854.7 322.0L1854.6 327.0L1854.0 327.8L1829.0 351.6L1824.0 351.7L1822.0 352.6L1818.0 353.1L1814.8 356.0L1810.0 362.6L1804.0 362.6L1797.0 364.1L1794.8 366.0L1790.0 372.6L1782.0 371.2L1775.0 361.4L1773.0 360.3L1769.0 360.5L1763.8 366.0L1762.6 377.0L1761.7 379.0L1761.6 382.0Z" fill="#75bd80"/>
<path d="M1680.0 36.1L1674.0 36.6L1669.0 36.3L1665.0 35.0L1663.9 34.0L1664.0 33.0L1667.0 30.3L1674.0 29.7L1687.1 31.0L1690.8 32.0L1691.7 33.0L1689.0 34.4ZM1716.0 36.1L1713.0 35.4L1711.4 34.0L1711.3 32.0L1712.3 31.0L1717.0 30.2L1719.0 30.8L1720.0 31.9L1720.1 34.0L1719.2 35.0ZM1607.0 56.4L1604.0 56.3L1602.9 55.0L1604.1 52.0L1607.0 50.0L1609.0 51.2L1609.8 53.0L1608.9 55.0ZM1782.0 55.6L1779.9 55.0L1779.5 53.0L1780.0 52.2L1782.0 52.7L1782.9 54.0L1782.8 55.0ZM1802.0 65.1L1798.8 64.0L1797.9 62.0L1798.4 60.0L1800.8 60.0L1802.9 62.0L1803.4 64.0ZM1579.0 73.0L1577.0 73.0L1576.5 72.0L1577.0 71.0L1578.0 70.9L1579.3 72.0ZM1537.0 116.2L1535.0 115.5L1534.2 113.0L1538.0 108.8L1540.0 108.0L1541.0 108.3L1541.7 110.0L1541.5 113.0L1540.0 115.0ZM1529.0 132.5L1528.4 132.0L1529.0 131.9ZM1528.0 133.3L1528.0 132.3L1528.6 133.0ZM1508.0 188.0L1506.3 188.0L1505.5 187.0L1504.8 182.0L1507.0 179.3L1511.0 178.1L1511.9 180.0L1511.7 185.0L1510.0 187.3ZM1761.0 382.3L1647.0 382.3L1640.0 374.4L1638.0 373.4L1599.0 373.3L1595.7 370.0L1594.6 368.0L1589.0 362.7L1578.0 362.3L1573.8 358.0L1572.8 356.0L1560.6 344.0L1559.0 343.3L1548.6 343.0L1542.7 337.0L1542.7 328.0L1541.6 325.0L1530.0 313.4L1528.0 312.3L1523.7 308.0L1523.3 297.0L1516.0 289.4L1513.7 288.0L1514.4 268.0L1513.1 266.0L1509.0 263.3L1503.7 258.0L1504.1 251.0L1505.7 244.0L1506.0 243.5L1508.0 246.2L1511.7 249.0L1513.8 252.0L1515.3 256.0L1518.4 269.0L1520.0 271.8L1524.9 277.0L1530.0 283.9L1535.3 289.0L1551.4 309.0L1563.0 320.6L1573.0 329.1L1592.0 336.2L1597.2 340.0L1612.0 348.2L1622.0 351.2L1641.0 351.5L1651.0 353.2L1661.0 351.0L1671.0 350.5L1681.0 356.3L1690.0 358.3L1700.0 357.5L1720.0 358.5L1740.0 349.7L1769.0 349.7L1788.0 343.1L1799.0 342.1L1808.0 337.3L1818.0 329.1L1839.0 314.9L1847.0 307.2L1853.0 302.7L1860.0 296.1L1864.0 290.5L1867.2 284.0L1869.0 282.6L1874.0 280.3L1875.0 282.4L1875.5 286.0L1872.4 290.0L1870.0 291.4L1865.2 296.0L1865.3 306.0L1855.6 316.0L1855.3 320.0L1854.4 322.0L1854.3 327.0L1829.4 351.0L1824.0 351.4L1822.0 352.3L1818.0 352.7L1814.4 356.0L1810.0 362.3L1803.0 362.4L1801.0 363.3L1797.0 363.7L1794.4 366.0L1790.0 372.3L1782.5 371.0L1779.7 368.0L1775.0 360.9L1772.0 359.7L1769.0 360.0L1767.5 361.0L1763.4 366.0L1763.2 371.0L1762.4 373.0L1762.3 377.0ZM1878.0 273.4L1876.8 273.0L1876.7 260.0L1877.5 257.0L1879.0 254.7L1882.0 254.0L1883.0 254.8L1884.0 258.0L1884.3 267.0L1882.0 270.6Z" fill="#96be71"/>
<path d="M1677.0 36.1L1668.0 35.6L1665.0 34.2L1664.7 33.0L1667.0 30.7L1674.0 30.0L1684.5 31.0L1688.3 32.0L1689.4 33.0L1688.0 34.0L1684.2 35.0ZM1718.0 35.1L1716.0 35.6L1713.4 35.0L1712.2 34.0L1712.1 32.0L1715.0 30.6L1718.4 31.0L1719.7 33.0ZM1606.0 56.1L1604.0 55.8L1603.4 54.0L1604.5 52.0L1607.0 50.4L1609.0 51.8L1609.3 53.0L1608.0 55.2ZM1782.0 54.4L1781.0 54.8L1780.3 54.0L1780.7 53.0L1782.0 53.8ZM1802.0 64.7L1800.0 64.4L1798.6 63.0L1798.3 61.0L1799.0 60.1L1801.0 60.5L1802.5 62.0L1802.9 64.0ZM1539.0 115.1L1536.0 115.7L1535.0 114.8L1534.5 113.0L1538.0 109.1L1540.0 108.5L1541.0 109.1L1541.3 112.0L1540.4 114.0ZM1508.0 187.1L1506.0 186.5L1505.3 182.0L1507.0 179.8L1510.0 178.6L1511.0 179.0L1511.4 180.0L1511.3 184.0L1510.0 186.3ZM1760.0 382.0L1647.0 381.9L1640.1 374.0L1638.0 373.0L1599.0 372.9L1596.1 370.0L1595.0 367.9L1589.0 362.4L1578.0 361.9L1574.3 358.0L1573.0 355.6L1561.0 343.8L1558.0 342.9L1549.0 342.9L1543.1 337.0L1543.0 328.0L1542.1 325.0L1530.1 313.0L1528.0 311.9L1524.1 308.0L1523.7 297.0L1516.1 289.0L1514.1 288.0L1514.0 279.0L1515.6 268.0L1514.0 266.0L1509.0 262.9L1504.1 258.0L1504.6 251.0L1505.8 247.0L1507.0 247.0L1511.0 249.7L1513.4 253.0L1514.7 257.0L1516.4 268.0L1518.4 273.0L1524.0 278.7L1529.0 287.3L1534.0 292.7L1540.2 301.0L1548.2 310.0L1563.0 324.9L1573.0 332.8L1582.6 338.0L1593.0 341.5L1612.0 351.5L1622.0 354.4L1632.0 355.6L1641.0 355.5L1651.0 356.9L1661.0 354.2L1671.0 354.0L1678.9 359.0L1682.1 360.0L1691.0 361.2L1700.0 360.7L1720.0 361.6L1728.8 359.0L1740.0 353.8L1749.0 354.0L1769.0 352.9L1788.0 346.2L1798.0 345.1L1809.0 339.7L1818.0 332.8L1841.0 317.0L1848.0 310.4L1857.0 303.6L1861.0 297.6L1868.0 284.7L1870.0 283.5L1873.0 282.7L1874.0 283.0L1874.9 286.0L1872.9 289.0L1864.4 296.0L1864.9 306.0L1855.2 316.0L1854.9 320.0L1854.1 322.0L1853.9 327.0L1829.0 350.9L1824.0 351.1L1822.0 351.9L1818.0 352.4L1814.0 355.9L1810.0 361.9L1803.0 362.1L1801.0 362.9L1797.0 363.4L1794.0 365.9L1790.0 371.9L1783.0 370.9L1780.1 368.0L1775.0 360.4L1773.0 359.4L1769.0 359.4L1767.0 360.8L1763.0 366.0L1761.9 377.0L1761.0 381.0ZM1879.0 272.2L1878.0 271.9L1877.7 271.0L1877.0 261.0L1878.8 256.0L1881.0 255.0L1882.6 256.0L1883.4 258.0L1883.8 267.0L1882.0 270.0Z" fill="#b3bd65"/>
<path d="M1681.0 35.1L1671.0 35.8L1667.0 34.7L1665.4 33.0L1667.4 31.0L1674.0 30.2L1682.1 31.0L1685.9 32.0L1687.1 33.0L1685.6 34.0ZM1716.0 35.1L1713.0 34.0L1712.9 32.0L1716.0 30.9L1718.7 32.0L1718.6 34.0ZM1607.0 55.3L1605.0 55.6L1604.0 55.0L1603.8 54.0L1605.0 52.0L1607.0 50.8L1608.6 52.0L1608.8 53.0ZM1802.0 64.1L1800.1 64.0L1799.0 63.0L1799.0 60.8L1800.0 60.5L1802.0 61.8L1802.5 63.0ZM1537.0 115.2L1535.9 115.0L1534.9 113.0L1538.0 109.6L1540.0 109.0L1540.9 110.0L1540.5 113.0L1539.0 114.5ZM1508.0 186.1L1507.0 186.1L1506.1 185.0L1505.9 182.0L1508.0 179.7L1510.0 179.4L1510.9 181.0L1510.6 184.0L1510.0 185.2ZM1514.0 264.8L1512.0 264.3L1509.0 262.4L1504.6 258.0L1504.7 253.0L1506.0 248.9L1507.0 248.6L1510.0 250.2L1512.5 253.0L1514.2 259.0L1514.7 264.0ZM1879.0 271.0L1877.6 266.0L1877.4 261.0L1879.0 256.8L1881.0 256.0L1882.0 256.5L1883.1 259.0L1883.2 267.0L1881.0 270.3ZM1760.0 381.6L1648.0 381.6L1647.0 381.4L1644.6 379.0L1640.6 374.0L1638.0 372.6L1599.0 372.4L1595.0 367.4L1590.0 362.5L1588.0 361.7L1578.0 361.3L1573.0 355.1L1561.0 343.3L1559.0 342.6L1549.0 342.4L1543.6 337.0L1543.4 328.0L1542.5 325.0L1530.6 313.0L1528.0 311.4L1524.6 308.0L1524.3 297.0L1514.4 287.0L1514.5 279.0L1516.0 273.3L1517.0 273.5L1523.0 279.7L1529.0 292.7L1540.0 305.5L1563.0 328.5L1573.0 336.0L1582.0 341.1L1602.0 348.7L1612.0 354.0L1622.0 356.9L1632.0 358.6L1651.0 360.2L1657.3 359.0L1661.0 357.5L1671.0 357.7L1674.6 360.0L1679.0 361.6L1690.0 363.5L1700.0 363.1L1720.0 364.3L1731.0 361.4L1740.0 358.2L1749.0 357.8L1769.0 355.4L1788.0 348.9L1799.0 347.4L1810.0 341.9L1841.6 320.0L1857.0 307.2L1860.0 303.8L1862.0 298.6L1863.0 298.0L1864.3 306.0L1855.2 315.0L1853.7 322.0L1853.4 327.0L1829.0 350.4L1824.0 350.7L1817.0 352.5L1809.0 361.6L1803.0 361.7L1796.0 363.5L1789.0 371.6L1783.0 370.5L1780.6 368.0L1775.0 359.8L1772.0 358.6L1769.0 358.7L1767.0 360.0L1762.5 366.0L1761.5 377.0ZM1867.0 293.0L1865.1 293.0L1865.2 292.0L1868.0 286.0L1870.0 284.7L1873.0 284.4L1873.8 285.0L1873.9 286.0L1872.4 289.0Z" fill="#d0bb59"/>
<path d="M1679.0 35.1L1670.0 35.2L1667.0 34.0L1666.3 33.0L1666.8 32.0L1668.8 31.0L1674.0 30.5L1679.8 31.0L1683.6 32.0L1684.8 33.0L1683.4 34.0ZM1717.0 34.3L1714.0 34.0L1713.5 33.0L1713.9 32.0L1716.0 31.4L1717.7 32.0L1718.2 33.0ZM1606.0 55.1L1604.9 55.0L1604.3 54.0L1605.0 52.6L1607.0 51.4L1608.0 52.0L1608.2 53.0ZM1802.0 63.1L1801.0 63.8L1800.0 63.4L1799.2 62.0L1799.8 61.0L1801.0 61.4ZM1539.0 114.0L1536.0 114.4L1535.4 113.0L1539.0 109.4L1540.0 109.6L1540.5 111.0L1540.0 113.0ZM1509.0 184.6L1507.0 184.6L1506.5 183.0L1507.2 181.0L1509.0 180.0L1510.2 181.0L1510.0 183.2ZM1513.0 263.9L1509.2 262.0L1505.0 257.7L1505.1 253.0L1506.0 250.6L1507.0 250.0L1510.0 251.3L1512.2 254.0L1513.8 262.0ZM1880.0 270.0L1879.0 269.0L1877.8 263.0L1878.4 259.0L1880.0 257.0L1882.1 258.0L1883.0 263.0L1882.2 268.0ZM1760.0 381.2L1648.0 381.2L1645.1 379.0L1641.0 373.8L1638.0 372.2L1599.3 372.0L1590.0 362.1L1588.0 361.3L1578.0 360.7L1573.5 355.0L1561.0 342.8L1559.0 342.2L1549.3 342.0L1544.1 337.0L1543.7 327.0L1542.9 325.0L1531.0 312.8L1525.2 308.0L1525.1 298.0L1524.4 296.0L1514.8 287.0L1514.8 280.0L1515.6 277.0L1516.0 276.0L1517.0 275.9L1522.0 280.4L1523.9 284.0L1526.0 291.7L1528.0 295.9L1538.0 307.8L1544.0 312.7L1556.6 326.0L1563.0 331.9L1573.0 339.1L1583.0 344.9L1602.0 351.2L1612.0 356.4L1623.0 359.6L1632.0 361.1L1651.0 362.8L1661.0 361.5L1671.0 361.4L1679.0 363.8L1690.0 365.8L1700.0 365.4L1720.0 366.9L1740.0 361.7L1750.0 360.8L1766.0 358.1L1766.5 359.0L1762.1 366.0L1762.0 370.5ZM1867.0 292.2L1866.4 291.0L1868.2 287.0L1871.0 285.5L1872.8 286.0L1872.9 287.0L1871.8 289.0ZM1789.0 371.2L1783.0 370.1L1776.0 359.9L1771.0 357.0L1788.0 351.5L1798.0 350.2L1810.0 344.8L1844.6 321.0L1850.0 316.4L1858.0 308.4L1862.0 303.1L1863.0 302.7L1863.3 306.0L1857.0 311.7L1854.3 315.0L1852.9 327.0L1829.0 349.9L1824.0 350.3L1817.0 352.1L1813.9 355.0L1809.0 361.2L1803.0 361.3L1796.0 363.1ZM1767.0 358.1L1766.6 358.0Z" fill="#e3c04a"/>
<path d="M1676.0 35.0L1671.0 34.9L1668.2 34.0L1667.4 33.0L1668.0 32.0L1670.0 31.2L1674.0 30.9L1680.0 31.6L1682.7 33.0L1681.2 34.0ZM1717.0 33.0L1716.0 33.6L1714.7 33.0L1716.0 32.3ZM1606.0 54.4L1605.0 54.0L1605.3 53.0L1607.0 52.0L1607.5 53.0ZM1801.0 63.1L1800.0 61.9L1801.0 62.0ZM1538.0 114.0L1536.5 114.0L1535.8 113.0L1539.0 109.9L1540.0 110.7L1540.0 112.0ZM1508.0 183.1L1507.6 182.0L1509.0 181.2L1509.0 182.3ZM1512.0 263.1L1509.8 262.0L1505.2 257.0L1505.7 253.0L1507.0 251.3L1510.0 252.4L1512.0 255.0L1513.1 262.0ZM1881.0 268.3L1880.0 268.5L1878.3 264.0L1878.6 260.0L1880.0 258.0L1881.0 258.1L1882.0 259.3L1882.5 262.0L1882.2 266.0ZM1525.0 294.9L1522.0 293.3L1515.2 287.0L1515.2 280.0L1516.0 278.0L1517.0 277.6L1520.0 279.9L1522.4 283.0L1523.8 287.0L1525.3 294.0ZM1868.0 291.1L1867.5 290.0L1869.0 287.3L1871.0 286.4L1871.9 287.0L1871.2 289.0ZM1759.0 380.8L1648.0 380.8L1645.7 379.0L1641.0 373.2L1638.0 371.7L1600.0 371.8L1590.0 361.6L1587.0 360.8L1579.0 360.7L1578.0 360.1L1574.0 354.8L1561.0 342.2L1559.0 341.6L1550.0 341.8L1549.0 341.3L1544.2 336.0L1544.2 328.0L1543.5 325.0L1531.0 312.2L1528.8 311.0L1525.8 308.0L1525.3 307.0L1526.0 299.4L1527.0 298.0L1529.0 302.5L1534.8 309.0L1544.0 316.2L1558.0 331.1L1570.0 340.6L1582.4 348.0L1602.0 353.6L1613.0 359.7L1627.0 362.9L1649.0 365.2L1671.0 364.3L1690.0 368.3L1700.0 367.8L1710.0 369.2L1719.0 369.6L1728.0 368.1L1740.0 364.9L1752.0 363.7L1762.0 361.9L1762.6 362.0L1761.4 366.0L1760.8 376.0L1759.8 380.0ZM1789.0 370.7L1783.0 369.4L1778.2 363.0L1775.6 358.0L1789.0 353.9L1798.0 352.9L1811.0 347.3L1827.0 335.8L1843.0 325.6L1849.0 320.8L1852.0 316.7L1853.0 317.1L1853.3 319.0L1852.3 327.0L1829.0 349.3L1817.0 351.5L1813.3 355.0L1809.0 360.8L1803.0 360.9L1796.0 362.5L1793.3 365.0Z" fill="#f5c63a"/>
<path d="M1679.0 34.0L1672.0 34.5L1669.7 34.0L1668.7 33.0L1669.5 32.0L1671.0 31.5L1676.0 31.4L1679.3 32.0L1680.6 33.0ZM1538.0 113.4L1536.5 113.0L1539.0 110.5L1539.4 112.0ZM1512.0 262.3L1510.0 261.6L1505.7 257.0L1505.9 254.0L1507.0 252.5L1509.3 253.0L1511.2 255.0L1512.4 260.0ZM1881.0 266.0L1880.0 266.3L1878.9 264.0L1878.9 261.0L1880.0 259.1L1881.0 259.4L1882.0 261.9L1881.9 264.0ZM1523.0 293.0L1515.9 287.0L1515.7 281.0L1516.0 279.6L1517.0 279.1L1520.0 281.3L1521.9 284.0L1523.6 292.0ZM1870.0 289.1L1868.9 289.0L1870.0 287.8L1870.8 288.0ZM1759.0 380.3L1648.0 380.3L1641.0 372.5L1638.0 371.1L1600.0 371.3L1597.4 369.0L1596.0 366.7L1590.0 361.1L1588.0 360.4L1578.7 360.0L1574.2 354.0L1562.0 341.9L1559.0 341.0L1549.4 341.0L1544.7 336.0L1544.7 327.0L1543.6 324.0L1532.0 312.0L1526.9 308.0L1526.0 307.0L1526.2 306.0L1527.0 303.8L1527.9 306.0L1530.0 308.3L1543.1 319.0L1553.0 330.7L1569.0 344.3L1581.0 350.9L1592.0 353.1L1602.0 356.1L1605.4 358.0L1612.0 363.3L1628.0 365.7L1651.0 368.1L1671.0 367.2L1681.0 368.9L1691.0 372.0L1700.0 371.1L1710.0 372.4L1720.0 372.9L1740.0 368.5L1760.0 365.6L1761.0 370.0L1760.2 373.0L1760.3 376.0ZM1789.0 370.1L1784.0 369.3L1783.0 368.6L1779.0 363.0L1778.4 360.0L1788.0 356.9L1799.0 355.6L1816.1 348.0L1828.7 338.0L1846.0 327.1L1849.0 324.6L1851.0 321.4L1851.8 322.0L1852.0 326.6L1828.6 349.0L1817.0 350.7L1813.0 354.5L1809.0 360.1L1803.0 360.3L1796.0 361.9L1793.0 364.5Z" fill="#fdd22b"/>
<path d="M1675.0 34.1L1672.1 34.0L1670.3 33.0L1671.6 32.0L1674.0 31.8L1676.5 32.0L1678.3 33.0ZM1511.0 261.4L1506.3 257.0L1506.3 255.0L1507.0 253.7L1509.0 253.9L1510.9 256.0L1511.7 260.0L1511.7 261.0ZM1880.0 264.4L1879.6 263.0L1880.0 260.7L1881.0 261.5L1881.1 263.0ZM1522.0 291.8L1516.3 286.0L1516.4 281.0L1517.0 280.4L1520.0 282.7L1521.4 285.0L1522.4 290.0ZM1556.0 340.0L1550.0 340.6L1545.3 336.0L1546.0 327.7L1550.0 334.8ZM1848.0 329.2L1848.0 328.7ZM1847.0 330.2L1846.5 330.0L1847.0 329.6ZM1846.0 331.3L1845.3 331.0L1846.0 330.4ZM1828.0 348.6L1822.7 348.0L1826.7 346.0L1832.7 340.0L1845.0 331.2L1845.4 332.0L1843.0 334.6L1840.0 336.7ZM1801.0 360.0L1795.5 360.0L1799.0 359.7L1812.0 353.9L1810.6 357.0L1808.0 359.7L1803.0 359.4ZM1610.0 370.1L1600.0 370.7L1596.2 366.0L1590.0 360.3L1588.0 359.7L1579.0 359.1L1578.4 358.0L1579.0 357.1L1585.0 355.8L1592.0 356.3L1598.2 358.0L1603.0 360.7L1610.9 370.0ZM1788.0 369.2L1784.0 368.5L1782.0 366.3L1781.0 363.0L1784.0 362.9L1795.0 360.1L1795.6 361.0ZM1635.0 370.0L1614.7 370.0L1616.2 369.0L1622.0 368.5ZM1689.0 379.1L1682.0 379.7L1648.0 379.7L1640.5 371.0L1641.0 370.3L1642.0 370.4L1661.0 372.1L1671.0 370.8L1680.0 372.0L1686.6 375.0L1689.6 378.0L1690.0 379.0ZM1758.0 379.6L1720.2 379.0L1737.4 377.0L1748.4 375.0L1751.0 373.0L1759.0 370.2L1759.5 371.0L1759.5 376.0L1758.7 379.0ZM1719.0 379.0L1692.6 379.0L1693.7 378.0L1700.0 376.0L1719.5 379.0Z" fill="#fbe61c"/>
</g>
<path d="M1474.5 442.0V9.3H1903.3V442.0" fill="none" stroke="#8c8c8c" stroke-width="1.6"/>
<path d="M1473.7 442.0H1904.1" fill="none" stroke="#5a5a5a" stroke-width="1.7"/>
<path d="M1474.5 442.0v-13M1474.5 442.0h13M1484.2 442.0v-7M1474.5 432.2h7M1494.0 442.0v-7M1474.5 422.3h7M1503.7 442.0v-7M1474.5 412.5h7M1513.5 442.0v-7M1474.5 402.7h7M1523.2 442.0v-13M1474.5 392.9h13M1533.0 442.0v-7M1474.5 383.0h7M1542.7 442.0v-7M1474.5 373.2h7M1552.5 442.0v-7M1474.5 363.4h7M1562.2 442.0v-7M1474.5 353.5h7M1572.0 442.0v-13M1474.5 343.7h13M1581.7 442.0v-7M1474.5 333.9h7M1591.4 442.0v-7M1474.5 324.0h7M1601.2 442.0v-7M1474.5 314.2h7M1610.9 442.0v-7M1474.5 304.4h7M1620.7 442.0v-13M1474.5 294.6h13M1630.4 442.0v-7M1474.5 284.7h7M1640.2 442.0v-7M1474.5 274.9h7M1649.9 442.0v-7M1474.5 265.1h7M1659.7 442.0v-7M1474.5 255.2h7M1669.4 442.0v-13M1474.5 245.4h13M1679.1 442.0v-7M1474.5 235.6h7M1688.9 442.0v-7M1474.5 225.7h7M1698.6 442.0v-7M1474.5 215.9h7M1708.4 442.0v-7M1474.5 206.1h7M1718.1 442.0v-13M1474.5 196.2h13M1727.9 442.0v-7M1474.5 186.4h7M1737.6 442.0v-7M1474.5 176.6h7M1747.4 442.0v-7M1474.5 166.8h7M1757.1 442.0v-7M1474.5 156.9h7M1766.8 442.0v-13M1474.5 147.1h13M1776.6 442.0v-7M1474.5 137.3h7M1786.3 442.0v-7M1474.5 127.4h7M1796.1 442.0v-7M1474.5 117.6h7M1805.8 442.0v-7M1474.5 107.8h7M1815.6 442.0v-13M1474.5 97.9h13M1825.3 442.0v-7M1474.5 88.1h7M1835.1 442.0v-7M1474.5 78.3h7M1844.8 442.0v-7M1474.5 68.5h7M1854.6 442.0v-7M1474.5 58.6h7M1864.3 442.0v-13M1474.5 48.8h13M1874.0 442.0v-7M1474.5 39.0h7M1883.8 442.0v-7M1474.5 29.1h7M1893.5 442.0v-7M1474.5 19.3h7M1474.5 9.5h7" fill="none" stroke="#777" stroke-width="1.7"/>
<rect x="1905.8" y="420.06" width="28.0" height="22.23" fill="#263ea9"/>
<rect x="1905.8" y="398.43" width="28.0" height="22.23" fill="#1752cc"/>
<rect x="1905.8" y="376.80" width="28.0" height="22.23" fill="#1063dc"/>
<rect x="1905.8" y="355.16" width="28.0" height="22.23" fill="#1272d9"/>
<rect x="1905.8" y="333.53" width="28.0" height="22.23" fill="#1480d6"/>
<rect x="1905.8" y="311.89" width="28.0" height="22.23" fill="#0e8ed1"/>
<rect x="1905.8" y="290.25" width="28.0" height="22.23" fill="#099dcc"/>
<rect x="1905.8" y="268.62" width="28.0" height="22.23" fill="#0ea7c2"/>
<rect x="1905.8" y="246.99" width="28.0" height="22.23" fill="#1eafb3"/>
<rect x="1905.8" y="225.35" width="28.0" height="22.23" fill="#2eb7a4"/>
<rect x="1905.8" y="203.72" width="28.0" height="22.23" fill="#51ba92"/>
<rect x="1905.8" y="182.08" width="28.0" height="22.23" fill="#75bd80"/>
<rect x="1905.8" y="160.44" width="28.0" height="22.23" fill="#96be71"/>
<rect x="1905.8" y="138.81" width="28.0" height="22.23" fill="#b3bd65"/>
<rect x="1905.8" y="117.18" width="28.0" height="22.23" fill="#d0bb59"/>
<rect x="1905.8" y="95.54" width="28.0" height="22.23" fill="#e3c04a"/>
<rect x="1905.8" y="73.91" width="28.0" height="22.23" fill="#f5c63a"/>
<rect x="1905.8" y="52.27" width="28.0" height="22.23" fill="#fdd22b"/>
<rect x="1905.8" y="30.64" width="28.0" height="22.23" fill="#fbe61c"/>
<rect x="1905.8" y="9.00" width="28.0" height="22.23" fill="#f9fb0e"/>
<path d="M1933.8 442.0h-14M1933.8 398.7h-14M1933.8 355.5h-14M1933.8 312.2h-14M1933.8 268.9h-14M1933.8 225.7h-14M1933.8 182.4h-14M1933.8 139.1h-14M1933.8 95.8h-14M1933.8 52.6h-14M1933.8 9.3h-14" fill="none" stroke="#333" stroke-opacity="0.75" stroke-width="1.3"/>
<g font-family='"Liberation Sans", Arial, Helvetica, sans-serif' font-size="20" fill="#16161c" stroke="#16161c" stroke-width="0.35">
<text transform="translate(1935,449.5) scale(1,1.07)">0</text>
<text transform="translate(1935,406.2) scale(1,1.07)">2</text>
<text transform="translate(1935,363.0) scale(1,1.07)">4</text>
<text transform="translate(1935,319.7) scale(1,1.07)">6</text>
<text transform="translate(1935,276.4) scale(1,1.07)">8</text>
<text transform="translate(1935,233.2) scale(1,1.07)">10</text>
<text transform="translate(1935,189.9) scale(1,1.07)">12</text>
<text transform="translate(1935,146.6) scale(1,1.07)">14</text>
<text transform="translate(1935,103.3) scale(1,1.07)">16</text>
<text transform="translate(1935,60.1) scale(1,1.07)">18</text>
<text transform="translate(1935,16.8) scale(1,1.07)">20</text>
<text transform="translate(1474.5,462.7) scale(1,1.1)" text-anchor="middle">0</text>
<text transform="translate(1470.8,449.6) scale(1,1.1)" text-anchor="end">0</text>
<text transform="translate(1523.2,462.7) scale(1,1.1)" text-anchor="middle">5</text>
<text transform="translate(1470.8,400.5) scale(1,1.1)" text-anchor="end">5</text>
<text transform="translate(1572.0,462.7) scale(1,1.1)" text-anchor="middle">10</text>
<text transform="translate(1470.8,351.3) scale(1,1.1)" text-anchor="end">10</text>
<text transform="translate(1620.7,462.7) scale(1,1.1)" text-anchor="middle">15</text>
<text transform="translate(1470.8,302.2) scale(1,1.1)" text-anchor="end">15</text>
<text transform="translate(1669.4,462.7) scale(1,1.1)" text-anchor="middle">20</text>
<text transform="translate(1470.8,253.0) scale(1,1.1)" text-anchor="end">20</text>
<text transform="translate(1718.1,462.7) scale(1,1.1)" text-anchor="middle">25</text>
<text transform="translate(1470.8,203.8) scale(1,1.1)" text-anchor="end">25</text>
<text transform="translate(1766.8,462.7) scale(1,1.1)" text-anchor="middle">30</text>
<text transform="translate(1470.8,154.7) scale(1,1.1)" text-anchor="end">30</text>
<text transform="translate(1815.6,462.7) scale(1,1.1)" text-anchor="middle">35</text>
<text transform="translate(1470.8,105.5) scale(1,1.1)" text-anchor="end">35</text>
<text transform="translate(1864.3,462.7) scale(1,1.1)" text-anchor="middle">40</text>
<text transform="translate(1470.8,56.4) scale(1,1.1)" text-anchor="end">40</text>
<text transform="translate(1689,490) scale(1,1.13)" text-anchor="middle" font-size="30">x [mm]</text>
<text transform="translate(1441.5,224.3) rotate(-90) scale(1.17,1)" text-anchor="middle" font-size="28.5">y [mm]</text>
<text transform="translate(1975.5,377.5) rotate(-90)" font-size="23.8">|netOD-netOD<tspan dy="6.5" font-size="14">μ</tspan><tspan dy="-6.5">| / netOD</tspan><tspan dy="6.5" font-size="14">μ</tspan><tspan dy="-6.5"> [%]</tspan></text>
</g>
</svg>
</body></html>
